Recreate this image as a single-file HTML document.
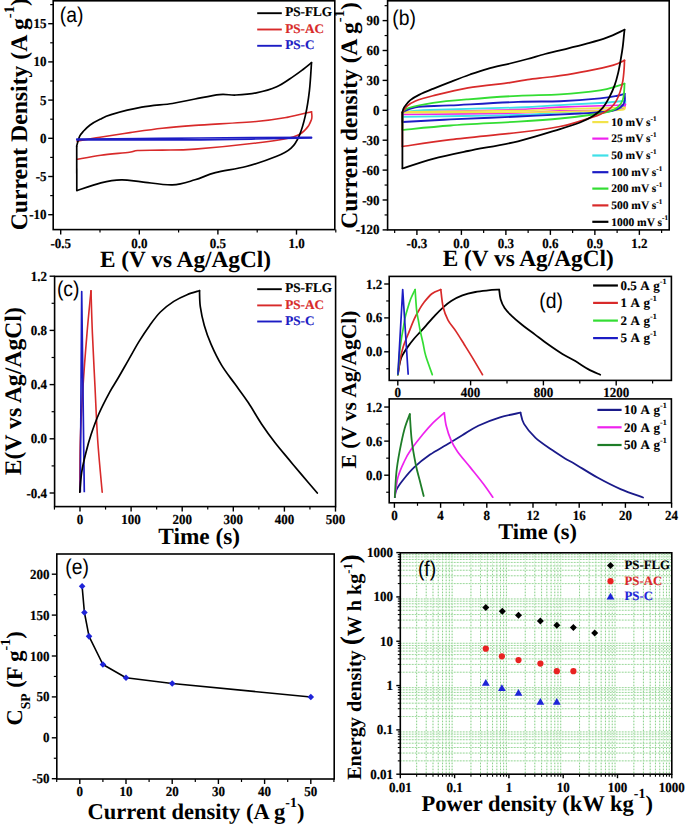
<!DOCTYPE html>
<html><head><meta charset="utf-8"><style>
html,body{margin:0;padding:0;background:#fff;}
svg{display:block;text-rendering:geometricPrecision;}
</style></head><body>
<svg width="685" height="824" viewBox="0 0 685 824">
<rect x="0" y="0" width="685" height="824" fill="#fff"/>
<line x1="416.65" y1="552.80" x2="416.65" y2="774.20" stroke="#e2f5e2" stroke-width="1.0"/>
<line x1="416.65" y1="552.80" x2="416.65" y2="774.20" stroke="#80cc80" stroke-dasharray="1.1 1.9" stroke-width="1.0"/>
<line x1="426.21" y1="552.80" x2="426.21" y2="774.20" stroke="#e2f5e2" stroke-width="1.0"/>
<line x1="426.21" y1="552.80" x2="426.21" y2="774.20" stroke="#80cc80" stroke-dasharray="1.1 1.9" stroke-width="1.0"/>
<line x1="432.99" y1="552.80" x2="432.99" y2="774.20" stroke="#e2f5e2" stroke-width="1.0"/>
<line x1="432.99" y1="552.80" x2="432.99" y2="774.20" stroke="#80cc80" stroke-dasharray="1.1 1.9" stroke-width="1.0"/>
<line x1="438.25" y1="552.80" x2="438.25" y2="774.20" stroke="#e2f5e2" stroke-width="1.0"/>
<line x1="438.25" y1="552.80" x2="438.25" y2="774.20" stroke="#80cc80" stroke-dasharray="1.1 1.9" stroke-width="1.0"/>
<line x1="442.55" y1="552.80" x2="442.55" y2="774.20" stroke="#e2f5e2" stroke-width="1.0"/>
<line x1="442.55" y1="552.80" x2="442.55" y2="774.20" stroke="#80cc80" stroke-dasharray="1.1 1.9" stroke-width="1.0"/>
<line x1="446.19" y1="552.80" x2="446.19" y2="774.20" stroke="#e2f5e2" stroke-width="1.0"/>
<line x1="446.19" y1="552.80" x2="446.19" y2="774.20" stroke="#80cc80" stroke-dasharray="1.1 1.9" stroke-width="1.0"/>
<line x1="449.34" y1="552.80" x2="449.34" y2="774.20" stroke="#e2f5e2" stroke-width="1.0"/>
<line x1="449.34" y1="552.80" x2="449.34" y2="774.20" stroke="#80cc80" stroke-dasharray="1.1 1.9" stroke-width="1.0"/>
<line x1="452.12" y1="552.80" x2="452.12" y2="774.20" stroke="#e2f5e2" stroke-width="1.0"/>
<line x1="452.12" y1="552.80" x2="452.12" y2="774.20" stroke="#80cc80" stroke-dasharray="1.1 1.9" stroke-width="1.0"/>
<line x1="470.95" y1="552.80" x2="470.95" y2="774.20" stroke="#e2f5e2" stroke-width="1.0"/>
<line x1="470.95" y1="552.80" x2="470.95" y2="774.20" stroke="#80cc80" stroke-dasharray="1.1 1.9" stroke-width="1.0"/>
<line x1="480.51" y1="552.80" x2="480.51" y2="774.20" stroke="#e2f5e2" stroke-width="1.0"/>
<line x1="480.51" y1="552.80" x2="480.51" y2="774.20" stroke="#80cc80" stroke-dasharray="1.1 1.9" stroke-width="1.0"/>
<line x1="487.29" y1="552.80" x2="487.29" y2="774.20" stroke="#e2f5e2" stroke-width="1.0"/>
<line x1="487.29" y1="552.80" x2="487.29" y2="774.20" stroke="#80cc80" stroke-dasharray="1.1 1.9" stroke-width="1.0"/>
<line x1="492.55" y1="552.80" x2="492.55" y2="774.20" stroke="#e2f5e2" stroke-width="1.0"/>
<line x1="492.55" y1="552.80" x2="492.55" y2="774.20" stroke="#80cc80" stroke-dasharray="1.1 1.9" stroke-width="1.0"/>
<line x1="496.85" y1="552.80" x2="496.85" y2="774.20" stroke="#e2f5e2" stroke-width="1.0"/>
<line x1="496.85" y1="552.80" x2="496.85" y2="774.20" stroke="#80cc80" stroke-dasharray="1.1 1.9" stroke-width="1.0"/>
<line x1="500.49" y1="552.80" x2="500.49" y2="774.20" stroke="#e2f5e2" stroke-width="1.0"/>
<line x1="500.49" y1="552.80" x2="500.49" y2="774.20" stroke="#80cc80" stroke-dasharray="1.1 1.9" stroke-width="1.0"/>
<line x1="503.64" y1="552.80" x2="503.64" y2="774.20" stroke="#e2f5e2" stroke-width="1.0"/>
<line x1="503.64" y1="552.80" x2="503.64" y2="774.20" stroke="#80cc80" stroke-dasharray="1.1 1.9" stroke-width="1.0"/>
<line x1="506.42" y1="552.80" x2="506.42" y2="774.20" stroke="#e2f5e2" stroke-width="1.0"/>
<line x1="506.42" y1="552.80" x2="506.42" y2="774.20" stroke="#80cc80" stroke-dasharray="1.1 1.9" stroke-width="1.0"/>
<line x1="525.25" y1="552.80" x2="525.25" y2="774.20" stroke="#e2f5e2" stroke-width="1.0"/>
<line x1="525.25" y1="552.80" x2="525.25" y2="774.20" stroke="#80cc80" stroke-dasharray="1.1 1.9" stroke-width="1.0"/>
<line x1="534.81" y1="552.80" x2="534.81" y2="774.20" stroke="#e2f5e2" stroke-width="1.0"/>
<line x1="534.81" y1="552.80" x2="534.81" y2="774.20" stroke="#80cc80" stroke-dasharray="1.1 1.9" stroke-width="1.0"/>
<line x1="541.59" y1="552.80" x2="541.59" y2="774.20" stroke="#e2f5e2" stroke-width="1.0"/>
<line x1="541.59" y1="552.80" x2="541.59" y2="774.20" stroke="#80cc80" stroke-dasharray="1.1 1.9" stroke-width="1.0"/>
<line x1="546.85" y1="552.80" x2="546.85" y2="774.20" stroke="#e2f5e2" stroke-width="1.0"/>
<line x1="546.85" y1="552.80" x2="546.85" y2="774.20" stroke="#80cc80" stroke-dasharray="1.1 1.9" stroke-width="1.0"/>
<line x1="551.15" y1="552.80" x2="551.15" y2="774.20" stroke="#e2f5e2" stroke-width="1.0"/>
<line x1="551.15" y1="552.80" x2="551.15" y2="774.20" stroke="#80cc80" stroke-dasharray="1.1 1.9" stroke-width="1.0"/>
<line x1="554.79" y1="552.80" x2="554.79" y2="774.20" stroke="#e2f5e2" stroke-width="1.0"/>
<line x1="554.79" y1="552.80" x2="554.79" y2="774.20" stroke="#80cc80" stroke-dasharray="1.1 1.9" stroke-width="1.0"/>
<line x1="557.94" y1="552.80" x2="557.94" y2="774.20" stroke="#e2f5e2" stroke-width="1.0"/>
<line x1="557.94" y1="552.80" x2="557.94" y2="774.20" stroke="#80cc80" stroke-dasharray="1.1 1.9" stroke-width="1.0"/>
<line x1="560.72" y1="552.80" x2="560.72" y2="774.20" stroke="#e2f5e2" stroke-width="1.0"/>
<line x1="560.72" y1="552.80" x2="560.72" y2="774.20" stroke="#80cc80" stroke-dasharray="1.1 1.9" stroke-width="1.0"/>
<line x1="579.55" y1="552.80" x2="579.55" y2="774.20" stroke="#e2f5e2" stroke-width="1.0"/>
<line x1="579.55" y1="552.80" x2="579.55" y2="774.20" stroke="#80cc80" stroke-dasharray="1.1 1.9" stroke-width="1.0"/>
<line x1="589.11" y1="552.80" x2="589.11" y2="774.20" stroke="#e2f5e2" stroke-width="1.0"/>
<line x1="589.11" y1="552.80" x2="589.11" y2="774.20" stroke="#80cc80" stroke-dasharray="1.1 1.9" stroke-width="1.0"/>
<line x1="595.89" y1="552.80" x2="595.89" y2="774.20" stroke="#e2f5e2" stroke-width="1.0"/>
<line x1="595.89" y1="552.80" x2="595.89" y2="774.20" stroke="#80cc80" stroke-dasharray="1.1 1.9" stroke-width="1.0"/>
<line x1="601.15" y1="552.80" x2="601.15" y2="774.20" stroke="#e2f5e2" stroke-width="1.0"/>
<line x1="601.15" y1="552.80" x2="601.15" y2="774.20" stroke="#80cc80" stroke-dasharray="1.1 1.9" stroke-width="1.0"/>
<line x1="605.45" y1="552.80" x2="605.45" y2="774.20" stroke="#e2f5e2" stroke-width="1.0"/>
<line x1="605.45" y1="552.80" x2="605.45" y2="774.20" stroke="#80cc80" stroke-dasharray="1.1 1.9" stroke-width="1.0"/>
<line x1="609.09" y1="552.80" x2="609.09" y2="774.20" stroke="#e2f5e2" stroke-width="1.0"/>
<line x1="609.09" y1="552.80" x2="609.09" y2="774.20" stroke="#80cc80" stroke-dasharray="1.1 1.9" stroke-width="1.0"/>
<line x1="612.24" y1="552.80" x2="612.24" y2="774.20" stroke="#e2f5e2" stroke-width="1.0"/>
<line x1="612.24" y1="552.80" x2="612.24" y2="774.20" stroke="#80cc80" stroke-dasharray="1.1 1.9" stroke-width="1.0"/>
<line x1="615.02" y1="552.80" x2="615.02" y2="774.20" stroke="#e2f5e2" stroke-width="1.0"/>
<line x1="615.02" y1="552.80" x2="615.02" y2="774.20" stroke="#80cc80" stroke-dasharray="1.1 1.9" stroke-width="1.0"/>
<line x1="633.85" y1="552.80" x2="633.85" y2="774.20" stroke="#e2f5e2" stroke-width="1.0"/>
<line x1="633.85" y1="552.80" x2="633.85" y2="774.20" stroke="#80cc80" stroke-dasharray="1.1 1.9" stroke-width="1.0"/>
<line x1="643.41" y1="552.80" x2="643.41" y2="774.20" stroke="#e2f5e2" stroke-width="1.0"/>
<line x1="643.41" y1="552.80" x2="643.41" y2="774.20" stroke="#80cc80" stroke-dasharray="1.1 1.9" stroke-width="1.0"/>
<line x1="650.19" y1="552.80" x2="650.19" y2="774.20" stroke="#e2f5e2" stroke-width="1.0"/>
<line x1="650.19" y1="552.80" x2="650.19" y2="774.20" stroke="#80cc80" stroke-dasharray="1.1 1.9" stroke-width="1.0"/>
<line x1="655.45" y1="552.80" x2="655.45" y2="774.20" stroke="#e2f5e2" stroke-width="1.0"/>
<line x1="655.45" y1="552.80" x2="655.45" y2="774.20" stroke="#80cc80" stroke-dasharray="1.1 1.9" stroke-width="1.0"/>
<line x1="659.75" y1="552.80" x2="659.75" y2="774.20" stroke="#e2f5e2" stroke-width="1.0"/>
<line x1="659.75" y1="552.80" x2="659.75" y2="774.20" stroke="#80cc80" stroke-dasharray="1.1 1.9" stroke-width="1.0"/>
<line x1="663.39" y1="552.80" x2="663.39" y2="774.20" stroke="#e2f5e2" stroke-width="1.0"/>
<line x1="663.39" y1="552.80" x2="663.39" y2="774.20" stroke="#80cc80" stroke-dasharray="1.1 1.9" stroke-width="1.0"/>
<line x1="666.54" y1="552.80" x2="666.54" y2="774.20" stroke="#e2f5e2" stroke-width="1.0"/>
<line x1="666.54" y1="552.80" x2="666.54" y2="774.20" stroke="#80cc80" stroke-dasharray="1.1 1.9" stroke-width="1.0"/>
<line x1="669.32" y1="552.80" x2="669.32" y2="774.20" stroke="#e2f5e2" stroke-width="1.0"/>
<line x1="669.32" y1="552.80" x2="669.32" y2="774.20" stroke="#80cc80" stroke-dasharray="1.1 1.9" stroke-width="1.0"/>
<line x1="400.30" y1="760.86" x2="671.80" y2="760.86" stroke="#e2f5e2" stroke-width="1.0"/>
<line x1="400.30" y1="760.86" x2="671.80" y2="760.86" stroke="#80cc80" stroke-dasharray="1.1 1.9" stroke-width="1.0"/>
<line x1="400.30" y1="753.05" x2="671.80" y2="753.05" stroke="#e2f5e2" stroke-width="1.0"/>
<line x1="400.30" y1="753.05" x2="671.80" y2="753.05" stroke="#80cc80" stroke-dasharray="1.1 1.9" stroke-width="1.0"/>
<line x1="400.30" y1="747.52" x2="671.80" y2="747.52" stroke="#e2f5e2" stroke-width="1.0"/>
<line x1="400.30" y1="747.52" x2="671.80" y2="747.52" stroke="#80cc80" stroke-dasharray="1.1 1.9" stroke-width="1.0"/>
<line x1="400.30" y1="743.22" x2="671.80" y2="743.22" stroke="#e2f5e2" stroke-width="1.0"/>
<line x1="400.30" y1="743.22" x2="671.80" y2="743.22" stroke="#80cc80" stroke-dasharray="1.1 1.9" stroke-width="1.0"/>
<line x1="400.30" y1="739.71" x2="671.80" y2="739.71" stroke="#e2f5e2" stroke-width="1.0"/>
<line x1="400.30" y1="739.71" x2="671.80" y2="739.71" stroke="#80cc80" stroke-dasharray="1.1 1.9" stroke-width="1.0"/>
<line x1="400.30" y1="736.75" x2="671.80" y2="736.75" stroke="#e2f5e2" stroke-width="1.0"/>
<line x1="400.30" y1="736.75" x2="671.80" y2="736.75" stroke="#80cc80" stroke-dasharray="1.1 1.9" stroke-width="1.0"/>
<line x1="400.30" y1="734.18" x2="671.80" y2="734.18" stroke="#e2f5e2" stroke-width="1.0"/>
<line x1="400.30" y1="734.18" x2="671.80" y2="734.18" stroke="#80cc80" stroke-dasharray="1.1 1.9" stroke-width="1.0"/>
<line x1="400.30" y1="731.91" x2="671.80" y2="731.91" stroke="#e2f5e2" stroke-width="1.0"/>
<line x1="400.30" y1="731.91" x2="671.80" y2="731.91" stroke="#80cc80" stroke-dasharray="1.1 1.9" stroke-width="1.0"/>
<line x1="400.30" y1="716.54" x2="671.80" y2="716.54" stroke="#e2f5e2" stroke-width="1.0"/>
<line x1="400.30" y1="716.54" x2="671.80" y2="716.54" stroke="#80cc80" stroke-dasharray="1.1 1.9" stroke-width="1.0"/>
<line x1="400.30" y1="708.73" x2="671.80" y2="708.73" stroke="#e2f5e2" stroke-width="1.0"/>
<line x1="400.30" y1="708.73" x2="671.80" y2="708.73" stroke="#80cc80" stroke-dasharray="1.1 1.9" stroke-width="1.0"/>
<line x1="400.30" y1="703.20" x2="671.80" y2="703.20" stroke="#e2f5e2" stroke-width="1.0"/>
<line x1="400.30" y1="703.20" x2="671.80" y2="703.20" stroke="#80cc80" stroke-dasharray="1.1 1.9" stroke-width="1.0"/>
<line x1="400.30" y1="698.90" x2="671.80" y2="698.90" stroke="#e2f5e2" stroke-width="1.0"/>
<line x1="400.30" y1="698.90" x2="671.80" y2="698.90" stroke="#80cc80" stroke-dasharray="1.1 1.9" stroke-width="1.0"/>
<line x1="400.30" y1="695.39" x2="671.80" y2="695.39" stroke="#e2f5e2" stroke-width="1.0"/>
<line x1="400.30" y1="695.39" x2="671.80" y2="695.39" stroke="#80cc80" stroke-dasharray="1.1 1.9" stroke-width="1.0"/>
<line x1="400.30" y1="692.43" x2="671.80" y2="692.43" stroke="#e2f5e2" stroke-width="1.0"/>
<line x1="400.30" y1="692.43" x2="671.80" y2="692.43" stroke="#80cc80" stroke-dasharray="1.1 1.9" stroke-width="1.0"/>
<line x1="400.30" y1="689.86" x2="671.80" y2="689.86" stroke="#e2f5e2" stroke-width="1.0"/>
<line x1="400.30" y1="689.86" x2="671.80" y2="689.86" stroke="#80cc80" stroke-dasharray="1.1 1.9" stroke-width="1.0"/>
<line x1="400.30" y1="687.59" x2="671.80" y2="687.59" stroke="#e2f5e2" stroke-width="1.0"/>
<line x1="400.30" y1="687.59" x2="671.80" y2="687.59" stroke="#80cc80" stroke-dasharray="1.1 1.9" stroke-width="1.0"/>
<line x1="400.30" y1="672.22" x2="671.80" y2="672.22" stroke="#e2f5e2" stroke-width="1.0"/>
<line x1="400.30" y1="672.22" x2="671.80" y2="672.22" stroke="#80cc80" stroke-dasharray="1.1 1.9" stroke-width="1.0"/>
<line x1="400.30" y1="664.41" x2="671.80" y2="664.41" stroke="#e2f5e2" stroke-width="1.0"/>
<line x1="400.30" y1="664.41" x2="671.80" y2="664.41" stroke="#80cc80" stroke-dasharray="1.1 1.9" stroke-width="1.0"/>
<line x1="400.30" y1="658.88" x2="671.80" y2="658.88" stroke="#e2f5e2" stroke-width="1.0"/>
<line x1="400.30" y1="658.88" x2="671.80" y2="658.88" stroke="#80cc80" stroke-dasharray="1.1 1.9" stroke-width="1.0"/>
<line x1="400.30" y1="654.58" x2="671.80" y2="654.58" stroke="#e2f5e2" stroke-width="1.0"/>
<line x1="400.30" y1="654.58" x2="671.80" y2="654.58" stroke="#80cc80" stroke-dasharray="1.1 1.9" stroke-width="1.0"/>
<line x1="400.30" y1="651.07" x2="671.80" y2="651.07" stroke="#e2f5e2" stroke-width="1.0"/>
<line x1="400.30" y1="651.07" x2="671.80" y2="651.07" stroke="#80cc80" stroke-dasharray="1.1 1.9" stroke-width="1.0"/>
<line x1="400.30" y1="648.11" x2="671.80" y2="648.11" stroke="#e2f5e2" stroke-width="1.0"/>
<line x1="400.30" y1="648.11" x2="671.80" y2="648.11" stroke="#80cc80" stroke-dasharray="1.1 1.9" stroke-width="1.0"/>
<line x1="400.30" y1="645.54" x2="671.80" y2="645.54" stroke="#e2f5e2" stroke-width="1.0"/>
<line x1="400.30" y1="645.54" x2="671.80" y2="645.54" stroke="#80cc80" stroke-dasharray="1.1 1.9" stroke-width="1.0"/>
<line x1="400.30" y1="643.27" x2="671.80" y2="643.27" stroke="#e2f5e2" stroke-width="1.0"/>
<line x1="400.30" y1="643.27" x2="671.80" y2="643.27" stroke="#80cc80" stroke-dasharray="1.1 1.9" stroke-width="1.0"/>
<line x1="400.30" y1="627.90" x2="671.80" y2="627.90" stroke="#e2f5e2" stroke-width="1.0"/>
<line x1="400.30" y1="627.90" x2="671.80" y2="627.90" stroke="#80cc80" stroke-dasharray="1.1 1.9" stroke-width="1.0"/>
<line x1="400.30" y1="620.09" x2="671.80" y2="620.09" stroke="#e2f5e2" stroke-width="1.0"/>
<line x1="400.30" y1="620.09" x2="671.80" y2="620.09" stroke="#80cc80" stroke-dasharray="1.1 1.9" stroke-width="1.0"/>
<line x1="400.30" y1="614.56" x2="671.80" y2="614.56" stroke="#e2f5e2" stroke-width="1.0"/>
<line x1="400.30" y1="614.56" x2="671.80" y2="614.56" stroke="#80cc80" stroke-dasharray="1.1 1.9" stroke-width="1.0"/>
<line x1="400.30" y1="610.26" x2="671.80" y2="610.26" stroke="#e2f5e2" stroke-width="1.0"/>
<line x1="400.30" y1="610.26" x2="671.80" y2="610.26" stroke="#80cc80" stroke-dasharray="1.1 1.9" stroke-width="1.0"/>
<line x1="400.30" y1="606.75" x2="671.80" y2="606.75" stroke="#e2f5e2" stroke-width="1.0"/>
<line x1="400.30" y1="606.75" x2="671.80" y2="606.75" stroke="#80cc80" stroke-dasharray="1.1 1.9" stroke-width="1.0"/>
<line x1="400.30" y1="603.79" x2="671.80" y2="603.79" stroke="#e2f5e2" stroke-width="1.0"/>
<line x1="400.30" y1="603.79" x2="671.80" y2="603.79" stroke="#80cc80" stroke-dasharray="1.1 1.9" stroke-width="1.0"/>
<line x1="400.30" y1="601.22" x2="671.80" y2="601.22" stroke="#e2f5e2" stroke-width="1.0"/>
<line x1="400.30" y1="601.22" x2="671.80" y2="601.22" stroke="#80cc80" stroke-dasharray="1.1 1.9" stroke-width="1.0"/>
<line x1="400.30" y1="598.95" x2="671.80" y2="598.95" stroke="#e2f5e2" stroke-width="1.0"/>
<line x1="400.30" y1="598.95" x2="671.80" y2="598.95" stroke="#80cc80" stroke-dasharray="1.1 1.9" stroke-width="1.0"/>
<line x1="400.30" y1="583.58" x2="671.80" y2="583.58" stroke="#e2f5e2" stroke-width="1.0"/>
<line x1="400.30" y1="583.58" x2="671.80" y2="583.58" stroke="#80cc80" stroke-dasharray="1.1 1.9" stroke-width="1.0"/>
<line x1="400.30" y1="575.77" x2="671.80" y2="575.77" stroke="#e2f5e2" stroke-width="1.0"/>
<line x1="400.30" y1="575.77" x2="671.80" y2="575.77" stroke="#80cc80" stroke-dasharray="1.1 1.9" stroke-width="1.0"/>
<line x1="400.30" y1="570.24" x2="671.80" y2="570.24" stroke="#e2f5e2" stroke-width="1.0"/>
<line x1="400.30" y1="570.24" x2="671.80" y2="570.24" stroke="#80cc80" stroke-dasharray="1.1 1.9" stroke-width="1.0"/>
<line x1="400.30" y1="565.94" x2="671.80" y2="565.94" stroke="#e2f5e2" stroke-width="1.0"/>
<line x1="400.30" y1="565.94" x2="671.80" y2="565.94" stroke="#80cc80" stroke-dasharray="1.1 1.9" stroke-width="1.0"/>
<line x1="400.30" y1="562.43" x2="671.80" y2="562.43" stroke="#e2f5e2" stroke-width="1.0"/>
<line x1="400.30" y1="562.43" x2="671.80" y2="562.43" stroke="#80cc80" stroke-dasharray="1.1 1.9" stroke-width="1.0"/>
<line x1="400.30" y1="559.47" x2="671.80" y2="559.47" stroke="#e2f5e2" stroke-width="1.0"/>
<line x1="400.30" y1="559.47" x2="671.80" y2="559.47" stroke="#80cc80" stroke-dasharray="1.1 1.9" stroke-width="1.0"/>
<line x1="400.30" y1="556.90" x2="671.80" y2="556.90" stroke="#e2f5e2" stroke-width="1.0"/>
<line x1="400.30" y1="556.90" x2="671.80" y2="556.90" stroke="#80cc80" stroke-dasharray="1.1 1.9" stroke-width="1.0"/>
<line x1="400.30" y1="554.63" x2="671.80" y2="554.63" stroke="#e2f5e2" stroke-width="1.0"/>
<line x1="400.30" y1="554.63" x2="671.80" y2="554.63" stroke="#80cc80" stroke-dasharray="1.1 1.9" stroke-width="1.0"/>
<rect x="400.30" y="552.80" width="271.50" height="221.40" fill="none" stroke="#000" stroke-width="1.6"/>
<line x1="396.30" y1="774.20" x2="400.30" y2="774.20" stroke="#000" stroke-width="1.4"/>
<text transform="translate(393.00,778.70) scale(1,1.06)" x="0" y="0" font-family='"Liberation Serif", serif' font-size="13" font-weight="bold" text-anchor="end" fill="#000" stroke="#000" stroke-width="0.2">0.01</text>
<line x1="400.30" y1="774.20" x2="400.30" y2="778.20" stroke="#000" stroke-width="1.4"/>
<text transform="translate(400.30,791.50) scale(1,1.06)" x="0" y="0" font-family='"Liberation Serif", serif' font-size="13" font-weight="bold" text-anchor="middle" fill="#000" stroke="#000" stroke-width="0.2">0.01</text>
<line x1="396.30" y1="729.88" x2="400.30" y2="729.88" stroke="#000" stroke-width="1.4"/>
<text transform="translate(393.00,734.38) scale(1,1.06)" x="0" y="0" font-family='"Liberation Serif", serif' font-size="13" font-weight="bold" text-anchor="end" fill="#000" stroke="#000" stroke-width="0.2">0.1</text>
<line x1="454.60" y1="774.20" x2="454.60" y2="778.20" stroke="#000" stroke-width="1.4"/>
<text transform="translate(454.60,791.50) scale(1,1.06)" x="0" y="0" font-family='"Liberation Serif", serif' font-size="13" font-weight="bold" text-anchor="middle" fill="#000" stroke="#000" stroke-width="0.2">0.1</text>
<line x1="396.30" y1="685.56" x2="400.30" y2="685.56" stroke="#000" stroke-width="1.4"/>
<text transform="translate(393.00,690.06) scale(1,1.06)" x="0" y="0" font-family='"Liberation Serif", serif' font-size="13" font-weight="bold" text-anchor="end" fill="#000" stroke="#000" stroke-width="0.2">1</text>
<line x1="508.90" y1="774.20" x2="508.90" y2="778.20" stroke="#000" stroke-width="1.4"/>
<text transform="translate(508.90,791.50) scale(1,1.06)" x="0" y="0" font-family='"Liberation Serif", serif' font-size="13" font-weight="bold" text-anchor="middle" fill="#000" stroke="#000" stroke-width="0.2">1</text>
<line x1="396.30" y1="641.24" x2="400.30" y2="641.24" stroke="#000" stroke-width="1.4"/>
<text transform="translate(393.00,645.74) scale(1,1.06)" x="0" y="0" font-family='"Liberation Serif", serif' font-size="13" font-weight="bold" text-anchor="end" fill="#000" stroke="#000" stroke-width="0.2">10</text>
<line x1="563.20" y1="774.20" x2="563.20" y2="778.20" stroke="#000" stroke-width="1.4"/>
<text transform="translate(563.20,791.50) scale(1,1.06)" x="0" y="0" font-family='"Liberation Serif", serif' font-size="13" font-weight="bold" text-anchor="middle" fill="#000" stroke="#000" stroke-width="0.2">10</text>
<line x1="396.30" y1="596.92" x2="400.30" y2="596.92" stroke="#000" stroke-width="1.4"/>
<text transform="translate(393.00,601.42) scale(1,1.06)" x="0" y="0" font-family='"Liberation Serif", serif' font-size="13" font-weight="bold" text-anchor="end" fill="#000" stroke="#000" stroke-width="0.2">100</text>
<line x1="617.50" y1="774.20" x2="617.50" y2="778.20" stroke="#000" stroke-width="1.4"/>
<text transform="translate(617.50,791.50) scale(1,1.06)" x="0" y="0" font-family='"Liberation Serif", serif' font-size="13" font-weight="bold" text-anchor="middle" fill="#000" stroke="#000" stroke-width="0.2">100</text>
<line x1="396.30" y1="552.60" x2="400.30" y2="552.60" stroke="#000" stroke-width="1.4"/>
<text transform="translate(393.00,557.10) scale(1,1.06)" x="0" y="0" font-family='"Liberation Serif", serif' font-size="13" font-weight="bold" text-anchor="end" fill="#000" stroke="#000" stroke-width="0.2">1000</text>
<line x1="671.80" y1="774.20" x2="671.80" y2="778.20" stroke="#000" stroke-width="1.4"/>
<text transform="translate(671.80,791.50) scale(1,1.06)" x="0" y="0" font-family='"Liberation Serif", serif' font-size="13" font-weight="bold" text-anchor="middle" fill="#000" stroke="#000" stroke-width="0.2">1000</text>
<line x1="397.80" y1="760.86" x2="400.30" y2="760.86" stroke="#000" stroke-width="1.1"/>
<line x1="416.65" y1="774.20" x2="416.65" y2="776.70" stroke="#000" stroke-width="1.1"/>
<line x1="397.80" y1="753.05" x2="400.30" y2="753.05" stroke="#000" stroke-width="1.1"/>
<line x1="426.21" y1="774.20" x2="426.21" y2="776.70" stroke="#000" stroke-width="1.1"/>
<line x1="397.80" y1="747.52" x2="400.30" y2="747.52" stroke="#000" stroke-width="1.1"/>
<line x1="432.99" y1="774.20" x2="432.99" y2="776.70" stroke="#000" stroke-width="1.1"/>
<line x1="397.80" y1="743.22" x2="400.30" y2="743.22" stroke="#000" stroke-width="1.1"/>
<line x1="438.25" y1="774.20" x2="438.25" y2="776.70" stroke="#000" stroke-width="1.1"/>
<line x1="397.80" y1="739.71" x2="400.30" y2="739.71" stroke="#000" stroke-width="1.1"/>
<line x1="442.55" y1="774.20" x2="442.55" y2="776.70" stroke="#000" stroke-width="1.1"/>
<line x1="397.80" y1="736.75" x2="400.30" y2="736.75" stroke="#000" stroke-width="1.1"/>
<line x1="446.19" y1="774.20" x2="446.19" y2="776.70" stroke="#000" stroke-width="1.1"/>
<line x1="397.80" y1="734.18" x2="400.30" y2="734.18" stroke="#000" stroke-width="1.1"/>
<line x1="449.34" y1="774.20" x2="449.34" y2="776.70" stroke="#000" stroke-width="1.1"/>
<line x1="397.80" y1="731.91" x2="400.30" y2="731.91" stroke="#000" stroke-width="1.1"/>
<line x1="452.12" y1="774.20" x2="452.12" y2="776.70" stroke="#000" stroke-width="1.1"/>
<line x1="397.80" y1="716.54" x2="400.30" y2="716.54" stroke="#000" stroke-width="1.1"/>
<line x1="470.95" y1="774.20" x2="470.95" y2="776.70" stroke="#000" stroke-width="1.1"/>
<line x1="397.80" y1="708.73" x2="400.30" y2="708.73" stroke="#000" stroke-width="1.1"/>
<line x1="480.51" y1="774.20" x2="480.51" y2="776.70" stroke="#000" stroke-width="1.1"/>
<line x1="397.80" y1="703.20" x2="400.30" y2="703.20" stroke="#000" stroke-width="1.1"/>
<line x1="487.29" y1="774.20" x2="487.29" y2="776.70" stroke="#000" stroke-width="1.1"/>
<line x1="397.80" y1="698.90" x2="400.30" y2="698.90" stroke="#000" stroke-width="1.1"/>
<line x1="492.55" y1="774.20" x2="492.55" y2="776.70" stroke="#000" stroke-width="1.1"/>
<line x1="397.80" y1="695.39" x2="400.30" y2="695.39" stroke="#000" stroke-width="1.1"/>
<line x1="496.85" y1="774.20" x2="496.85" y2="776.70" stroke="#000" stroke-width="1.1"/>
<line x1="397.80" y1="692.43" x2="400.30" y2="692.43" stroke="#000" stroke-width="1.1"/>
<line x1="500.49" y1="774.20" x2="500.49" y2="776.70" stroke="#000" stroke-width="1.1"/>
<line x1="397.80" y1="689.86" x2="400.30" y2="689.86" stroke="#000" stroke-width="1.1"/>
<line x1="503.64" y1="774.20" x2="503.64" y2="776.70" stroke="#000" stroke-width="1.1"/>
<line x1="397.80" y1="687.59" x2="400.30" y2="687.59" stroke="#000" stroke-width="1.1"/>
<line x1="506.42" y1="774.20" x2="506.42" y2="776.70" stroke="#000" stroke-width="1.1"/>
<line x1="397.80" y1="672.22" x2="400.30" y2="672.22" stroke="#000" stroke-width="1.1"/>
<line x1="525.25" y1="774.20" x2="525.25" y2="776.70" stroke="#000" stroke-width="1.1"/>
<line x1="397.80" y1="664.41" x2="400.30" y2="664.41" stroke="#000" stroke-width="1.1"/>
<line x1="534.81" y1="774.20" x2="534.81" y2="776.70" stroke="#000" stroke-width="1.1"/>
<line x1="397.80" y1="658.88" x2="400.30" y2="658.88" stroke="#000" stroke-width="1.1"/>
<line x1="541.59" y1="774.20" x2="541.59" y2="776.70" stroke="#000" stroke-width="1.1"/>
<line x1="397.80" y1="654.58" x2="400.30" y2="654.58" stroke="#000" stroke-width="1.1"/>
<line x1="546.85" y1="774.20" x2="546.85" y2="776.70" stroke="#000" stroke-width="1.1"/>
<line x1="397.80" y1="651.07" x2="400.30" y2="651.07" stroke="#000" stroke-width="1.1"/>
<line x1="551.15" y1="774.20" x2="551.15" y2="776.70" stroke="#000" stroke-width="1.1"/>
<line x1="397.80" y1="648.11" x2="400.30" y2="648.11" stroke="#000" stroke-width="1.1"/>
<line x1="554.79" y1="774.20" x2="554.79" y2="776.70" stroke="#000" stroke-width="1.1"/>
<line x1="397.80" y1="645.54" x2="400.30" y2="645.54" stroke="#000" stroke-width="1.1"/>
<line x1="557.94" y1="774.20" x2="557.94" y2="776.70" stroke="#000" stroke-width="1.1"/>
<line x1="397.80" y1="643.27" x2="400.30" y2="643.27" stroke="#000" stroke-width="1.1"/>
<line x1="560.72" y1="774.20" x2="560.72" y2="776.70" stroke="#000" stroke-width="1.1"/>
<line x1="397.80" y1="627.90" x2="400.30" y2="627.90" stroke="#000" stroke-width="1.1"/>
<line x1="579.55" y1="774.20" x2="579.55" y2="776.70" stroke="#000" stroke-width="1.1"/>
<line x1="397.80" y1="620.09" x2="400.30" y2="620.09" stroke="#000" stroke-width="1.1"/>
<line x1="589.11" y1="774.20" x2="589.11" y2="776.70" stroke="#000" stroke-width="1.1"/>
<line x1="397.80" y1="614.56" x2="400.30" y2="614.56" stroke="#000" stroke-width="1.1"/>
<line x1="595.89" y1="774.20" x2="595.89" y2="776.70" stroke="#000" stroke-width="1.1"/>
<line x1="397.80" y1="610.26" x2="400.30" y2="610.26" stroke="#000" stroke-width="1.1"/>
<line x1="601.15" y1="774.20" x2="601.15" y2="776.70" stroke="#000" stroke-width="1.1"/>
<line x1="397.80" y1="606.75" x2="400.30" y2="606.75" stroke="#000" stroke-width="1.1"/>
<line x1="605.45" y1="774.20" x2="605.45" y2="776.70" stroke="#000" stroke-width="1.1"/>
<line x1="397.80" y1="603.79" x2="400.30" y2="603.79" stroke="#000" stroke-width="1.1"/>
<line x1="609.09" y1="774.20" x2="609.09" y2="776.70" stroke="#000" stroke-width="1.1"/>
<line x1="397.80" y1="601.22" x2="400.30" y2="601.22" stroke="#000" stroke-width="1.1"/>
<line x1="612.24" y1="774.20" x2="612.24" y2="776.70" stroke="#000" stroke-width="1.1"/>
<line x1="397.80" y1="598.95" x2="400.30" y2="598.95" stroke="#000" stroke-width="1.1"/>
<line x1="615.02" y1="774.20" x2="615.02" y2="776.70" stroke="#000" stroke-width="1.1"/>
<line x1="397.80" y1="583.58" x2="400.30" y2="583.58" stroke="#000" stroke-width="1.1"/>
<line x1="633.85" y1="774.20" x2="633.85" y2="776.70" stroke="#000" stroke-width="1.1"/>
<line x1="397.80" y1="575.77" x2="400.30" y2="575.77" stroke="#000" stroke-width="1.1"/>
<line x1="643.41" y1="774.20" x2="643.41" y2="776.70" stroke="#000" stroke-width="1.1"/>
<line x1="397.80" y1="570.24" x2="400.30" y2="570.24" stroke="#000" stroke-width="1.1"/>
<line x1="650.19" y1="774.20" x2="650.19" y2="776.70" stroke="#000" stroke-width="1.1"/>
<line x1="397.80" y1="565.94" x2="400.30" y2="565.94" stroke="#000" stroke-width="1.1"/>
<line x1="655.45" y1="774.20" x2="655.45" y2="776.70" stroke="#000" stroke-width="1.1"/>
<line x1="397.80" y1="562.43" x2="400.30" y2="562.43" stroke="#000" stroke-width="1.1"/>
<line x1="659.75" y1="774.20" x2="659.75" y2="776.70" stroke="#000" stroke-width="1.1"/>
<line x1="397.80" y1="559.47" x2="400.30" y2="559.47" stroke="#000" stroke-width="1.1"/>
<line x1="663.39" y1="774.20" x2="663.39" y2="776.70" stroke="#000" stroke-width="1.1"/>
<line x1="397.80" y1="556.90" x2="400.30" y2="556.90" stroke="#000" stroke-width="1.1"/>
<line x1="666.54" y1="774.20" x2="666.54" y2="776.70" stroke="#000" stroke-width="1.1"/>
<line x1="397.80" y1="554.63" x2="400.30" y2="554.63" stroke="#000" stroke-width="1.1"/>
<line x1="669.32" y1="774.20" x2="669.32" y2="776.70" stroke="#000" stroke-width="1.1"/>
<path d="M485.80,604.00 L489.30,607.50 L485.80,611.00 L482.30,607.50 Z" fill="#000"/>
<path d="M502.30,607.70 L505.80,611.20 L502.30,614.70 L498.80,611.20 Z" fill="#000"/>
<path d="M518.50,611.80 L522.00,615.30 L518.50,618.80 L515.00,615.30 Z" fill="#000"/>
<path d="M540.40,617.50 L543.90,621.00 L540.40,624.50 L536.90,621.00 Z" fill="#000"/>
<path d="M556.80,621.80 L560.30,625.30 L556.80,628.80 L553.30,625.30 Z" fill="#000"/>
<path d="M573.40,623.90 L576.90,627.40 L573.40,630.90 L569.90,627.40 Z" fill="#000"/>
<path d="M594.70,629.40 L598.20,632.90 L594.70,636.40 L591.20,632.90 Z" fill="#000"/>
<circle cx="485.80" cy="648.70" r="3.1" fill="#e82222"/>
<circle cx="501.90" cy="656.30" r="3.1" fill="#e82222"/>
<circle cx="518.50" cy="660.10" r="3.1" fill="#e82222"/>
<circle cx="540.40" cy="663.60" r="3.1" fill="#e82222"/>
<circle cx="556.80" cy="671.20" r="3.1" fill="#e82222"/>
<circle cx="573.40" cy="671.20" r="3.1" fill="#e82222"/>
<path d="M485.80,678.90 L489.70,685.72 L481.90,685.72 Z" fill="#1f24d8"/>
<path d="M501.90,684.20 L505.80,691.02 L498.00,691.02 Z" fill="#1f24d8"/>
<path d="M518.50,688.90 L522.40,695.72 L514.60,695.72 Z" fill="#1f24d8"/>
<path d="M540.40,697.90 L544.30,704.72 L536.50,704.72 Z" fill="#1f24d8"/>
<path d="M556.80,697.90 L560.70,704.72 L552.90,704.72 Z" fill="#1f24d8"/>
<path d="M610.50,562.00 L614.00,565.50 L610.50,569.00 L607.00,565.50 Z" fill="#000"/>
<circle cx="610.50" cy="581.20" r="3.1" fill="#e82222"/>
<path d="M610.50,592.80 L614.40,599.62 L606.60,599.62 Z" fill="#1f24d8"/>
<text x="624.50" y="569.00" font-family='"Liberation Serif", serif' font-size="12.8" font-weight="bold" text-anchor="start" fill="#000" stroke="#000" stroke-width="0.12">PS-FLG</text>
<text x="624.50" y="584.70" font-family='"Liberation Serif", serif' font-size="12.8" font-weight="bold" text-anchor="start" fill="#d82a2a" stroke="#d82a2a" stroke-width="0.12">PS-AC</text>
<text x="624.50" y="600.20" font-family='"Liberation Serif", serif' font-size="12.8" font-weight="bold" text-anchor="start" fill="#1f24d8" stroke="#1f24d8" stroke-width="0.12">PS-C</text>
<text x="537.20" y="810.50" font-family='"Liberation Serif", serif' font-size="22.5" font-weight="bold" text-anchor="middle" fill="#000">Power density (kW kg<tspan font-size="0.62em" dy="-0.88em">-1</tspan><tspan dy="0.5456em">)</tspan></text>
<text transform="translate(360.50,667.00) rotate(-90)" x="0" y="0" font-family='"Liberation Serif", serif' font-size="20.2" font-weight="bold" text-anchor="middle" fill="#000">Energy density <tspan font-size="1.35em" dy="-1.2">(</tspan><tspan dy="1.2">W h kg</tspan><tspan font-size="0.62em" dy="-9">-1</tspan><tspan font-size="1.35em" dy="7.8">)</tspan></text>
<text transform="translate(417.90,576.30) scale(0.9,1)" x="0" y="0" font-family='"Liberation Sans", sans-serif' font-size="21.5" fill="#000">(f)</text>
<path d="M77.00,141.20 C80.83,140.53 91.17,138.63 100.00,137.20 C108.83,135.77 119.63,134.10 130.00,132.60 C140.37,131.10 151.37,129.40 162.20,128.20 C173.03,127.00 179.32,126.52 195.00,125.40 C210.68,124.28 240.97,122.83 256.30,121.50 C271.63,120.17 277.80,119.03 287.00,117.40 C296.20,115.77 307.42,112.65 311.50,111.70" fill="none" stroke="#d82a2a" stroke-width="1.6" stroke-linejoin="round" stroke-linecap="round"/>
<path d="M311.50,111.70 C311.50,113.00 312.52,116.50 311.50,119.50 C310.48,122.50 308.47,126.80 305.40,129.70 C302.33,132.60 301.28,134.68 293.10,136.90 C284.92,139.12 272.65,140.97 256.30,143.00 C239.95,145.03 210.68,147.92 195.00,149.10 C179.32,150.28 171.75,149.87 162.20,150.10 C152.65,150.33 143.15,150.15 137.70,150.50 C132.25,150.85 135.63,151.40 129.50,152.20 C123.37,153.00 109.58,154.12 100.90,155.30 C92.22,156.48 81.32,158.63 77.40,159.30" fill="none" stroke="#d82a2a" stroke-width="1.6" stroke-linejoin="round" stroke-linecap="round"/>
<path d="M76.70,146.00 C76.90,145.27 77.42,143.20 77.90,141.60 C78.38,140.00 78.73,138.07 79.60,136.40 C80.47,134.73 81.35,133.50 83.10,131.60 C84.85,129.70 87.28,127.05 90.10,125.00 C92.92,122.95 96.50,121.03 100.00,119.30 C103.50,117.57 104.15,116.62 111.10,114.60 C118.05,112.58 131.48,109.05 141.70,107.20 C151.92,105.35 163.52,104.87 172.40,103.50 C181.28,102.13 187.15,100.48 195.00,99.00 C202.85,97.52 212.68,95.27 219.50,94.60 C226.32,93.93 229.77,95.28 235.90,95.00 C242.03,94.72 249.50,94.27 256.30,92.90 C263.10,91.53 270.57,89.52 276.70,86.80 C282.83,84.08 288.72,79.48 293.10,76.60 C297.48,73.72 299.93,71.82 303.00,69.50 C306.07,67.18 310.08,63.83 311.50,62.70" fill="none" stroke="#000" stroke-width="1.7" stroke-linejoin="round" stroke-linecap="round"/>
<path d="M311.50,62.70 C311.15,67.40 310.42,82.12 309.40,90.90 C308.38,99.68 307.10,107.92 305.40,115.40 C303.70,122.88 301.58,130.35 299.20,135.80 C296.82,141.25 294.85,144.68 291.10,148.10 C287.35,151.52 284.20,153.23 276.70,156.30 C269.20,159.37 256.32,163.78 246.10,166.50 C235.88,169.22 223.92,170.38 215.40,172.60 C206.88,174.82 202.17,177.75 195.00,179.80 C187.83,181.85 181.28,184.57 172.40,184.90 C163.52,185.23 150.22,182.65 141.70,181.80 C133.18,180.95 128.10,179.63 121.30,179.80 C114.50,179.97 108.32,181.00 100.90,182.80 C93.48,184.60 80.82,189.30 76.80,190.60" fill="none" stroke="#000" stroke-width="1.7" stroke-linejoin="round" stroke-linecap="round"/>
<path d="M76.80,190.60 L76.70,146.00" fill="none" stroke="#000" stroke-width="1.7" stroke-linejoin="round"/>
<path d="M76.80,139.20 C87.33,139.10 119.47,138.80 140.00,138.60 C160.53,138.40 171.42,138.22 200.00,138.00 C228.58,137.78 292.92,137.42 311.50,137.30" fill="none" stroke="#1c1cc4" stroke-width="1.7" stroke-linejoin="round" stroke-linecap="round"/>
<path d="M76.80,139.80 C87.33,139.80 119.47,139.80 140.00,139.80 C160.53,139.80 171.42,140.10 200.00,139.80 C228.58,139.50 292.92,138.30 311.50,138.00" fill="none" stroke="#1c1cc4" stroke-width="1.7" stroke-linejoin="round" stroke-linecap="round"/>
<rect x="53.20" y="0.80" width="281.60" height="228.80" fill="none" stroke="#000" stroke-width="1.6"/>
<line x1="48.20" y1="214.70" x2="53.20" y2="214.70" stroke="#000" stroke-width="1.4"/>
<text transform="translate(46.50,219.25) scale(1,1.06)" x="0" y="0" font-family='"Liberation Serif", serif' font-size="13" font-weight="bold" text-anchor="end" fill="#000" stroke="#000" stroke-width="0.2">-10</text>
<line x1="48.20" y1="176.50" x2="53.20" y2="176.50" stroke="#000" stroke-width="1.4"/>
<text transform="translate(46.50,181.05) scale(1,1.06)" x="0" y="0" font-family='"Liberation Serif", serif' font-size="13" font-weight="bold" text-anchor="end" fill="#000" stroke="#000" stroke-width="0.2">-5</text>
<line x1="48.20" y1="138.30" x2="53.20" y2="138.30" stroke="#000" stroke-width="1.4"/>
<text transform="translate(46.50,142.85) scale(1,1.06)" x="0" y="0" font-family='"Liberation Serif", serif' font-size="13" font-weight="bold" text-anchor="end" fill="#000" stroke="#000" stroke-width="0.2">0</text>
<line x1="48.20" y1="100.10" x2="53.20" y2="100.10" stroke="#000" stroke-width="1.4"/>
<text transform="translate(46.50,104.65) scale(1,1.06)" x="0" y="0" font-family='"Liberation Serif", serif' font-size="13" font-weight="bold" text-anchor="end" fill="#000" stroke="#000" stroke-width="0.2">5</text>
<line x1="48.20" y1="61.90" x2="53.20" y2="61.90" stroke="#000" stroke-width="1.4"/>
<text transform="translate(46.50,66.45) scale(1,1.06)" x="0" y="0" font-family='"Liberation Serif", serif' font-size="13" font-weight="bold" text-anchor="end" fill="#000" stroke="#000" stroke-width="0.2">10</text>
<line x1="48.20" y1="23.70" x2="53.20" y2="23.70" stroke="#000" stroke-width="1.4"/>
<text transform="translate(46.50,28.25) scale(1,1.06)" x="0" y="0" font-family='"Liberation Serif", serif' font-size="13" font-weight="bold" text-anchor="end" fill="#000" stroke="#000" stroke-width="0.2">15</text>
<line x1="50.20" y1="195.60" x2="53.20" y2="195.60" stroke="#000" stroke-width="1.2"/>
<line x1="50.20" y1="157.40" x2="53.20" y2="157.40" stroke="#000" stroke-width="1.2"/>
<line x1="50.20" y1="119.20" x2="53.20" y2="119.20" stroke="#000" stroke-width="1.2"/>
<line x1="50.20" y1="81.00" x2="53.20" y2="81.00" stroke="#000" stroke-width="1.2"/>
<line x1="50.20" y1="42.80" x2="53.20" y2="42.80" stroke="#000" stroke-width="1.2"/>
<line x1="50.20" y1="4.60" x2="53.20" y2="4.60" stroke="#000" stroke-width="1.2"/>
<line x1="60.70" y1="229.60" x2="60.70" y2="234.60" stroke="#000" stroke-width="1.4"/>
<text transform="translate(60.70,247.60) scale(1,1.06)" x="0" y="0" font-family='"Liberation Serif", serif' font-size="13" font-weight="bold" text-anchor="middle" fill="#000" stroke="#000" stroke-width="0.2">-0.5</text>
<line x1="139.30" y1="229.60" x2="139.30" y2="234.60" stroke="#000" stroke-width="1.4"/>
<text transform="translate(139.30,247.60) scale(1,1.06)" x="0" y="0" font-family='"Liberation Serif", serif' font-size="13" font-weight="bold" text-anchor="middle" fill="#000" stroke="#000" stroke-width="0.2">0.0</text>
<line x1="217.90" y1="229.60" x2="217.90" y2="234.60" stroke="#000" stroke-width="1.4"/>
<text transform="translate(217.90,247.60) scale(1,1.06)" x="0" y="0" font-family='"Liberation Serif", serif' font-size="13" font-weight="bold" text-anchor="middle" fill="#000" stroke="#000" stroke-width="0.2">0.5</text>
<line x1="296.50" y1="229.60" x2="296.50" y2="234.60" stroke="#000" stroke-width="1.4"/>
<text transform="translate(296.50,247.60) scale(1,1.06)" x="0" y="0" font-family='"Liberation Serif", serif' font-size="13" font-weight="bold" text-anchor="middle" fill="#000" stroke="#000" stroke-width="0.2">1.0</text>
<line x1="100.00" y1="229.60" x2="100.00" y2="232.60" stroke="#000" stroke-width="1.2"/>
<line x1="178.60" y1="229.60" x2="178.60" y2="232.60" stroke="#000" stroke-width="1.2"/>
<line x1="257.20" y1="229.60" x2="257.20" y2="232.60" stroke="#000" stroke-width="1.2"/>
<line x1="335.80" y1="229.60" x2="335.80" y2="232.60" stroke="#000" stroke-width="1.2"/>
<text x="185.50" y="266.50" font-family='"Liberation Serif", serif' font-size="23.3" font-weight="bold" text-anchor="middle" fill="#000">E (V vs Ag/AgCl)</text>
<text transform="translate(26.80,114.20) rotate(-90)" x="0" y="0" font-family='"Liberation Serif", serif' font-size="23.7" font-weight="bold" text-anchor="middle" fill="#000">Current Density (A g<tspan font-size="0.62em" dy="-0.88em">-1</tspan><tspan dy="0.5456em">)</tspan></text>
<text transform="translate(59.70,22.10) scale(0.9,1)" x="0" y="0" font-family='"Liberation Sans", sans-serif' font-size="21.5" fill="#000">(a)</text>
<line x1="257.20" y1="13.20" x2="281.80" y2="13.20" stroke="#000" stroke-width="1.9"/>
<text x="285.20" y="16.36" font-family='"Liberation Serif", serif' font-size="13.2" font-weight="bold" text-anchor="start" fill="#000" stroke="#000" stroke-width="0.15">PS-FLG</text>
<line x1="257.20" y1="29.50" x2="281.80" y2="29.50" stroke="#d82a2a" stroke-width="1.9"/>
<text x="285.20" y="32.66" font-family='"Liberation Serif", serif' font-size="13.2" font-weight="bold" text-anchor="start" fill="#d82a2a" stroke="#d82a2a" stroke-width="0.15">PS-AC</text>
<line x1="257.20" y1="45.80" x2="281.80" y2="45.80" stroke="#1c1cc4" stroke-width="1.9"/>
<text x="285.20" y="48.96" font-family='"Liberation Serif", serif' font-size="13.2" font-weight="bold" text-anchor="start" fill="#1c1cc4" stroke="#1c1cc4" stroke-width="0.15">PS-C</text>
<path d="M402.40,112.40 C407.00,112.00 410.73,110.82 430.00,110.00 C449.27,109.18 496.33,108.32 518.00,107.50 C539.67,106.68 546.33,105.85 560.00,105.10 C573.67,104.35 590.33,103.60 600.00,103.00 C609.67,102.40 613.80,101.90 618.00,101.50 C622.20,101.10 624.00,100.75 625.20,100.60" fill="none" stroke="#3fe0e8" stroke-width="1.8" stroke-linejoin="round" stroke-linecap="round"/>
<path d="M625.20,100.60 C625.17,101.17 625.70,102.68 625.00,104.00 C624.30,105.32 623.50,107.40 621.00,108.50 C618.50,109.60 620.17,109.97 610.00,110.60 C599.83,111.23 575.33,111.57 560.00,112.30 C544.67,113.03 544.27,114.25 518.00,115.00 C491.73,115.75 421.67,116.50 402.40,116.80" fill="none" stroke="#3fe0e8" stroke-width="1.8" stroke-linejoin="round" stroke-linecap="round"/>
<path d="M402.40,116.80 L402.40,112.40" fill="none" stroke="#3fe0e8" stroke-width="1.8" stroke-linejoin="round"/>
<path d="M402.40,112.40 C421.67,111.92 491.73,110.38 518.00,109.50 C544.27,108.62 543.33,107.82 560.00,107.10 C576.67,106.38 607.10,105.68 618.00,105.20 C628.90,104.72 624.17,104.37 625.40,104.20" fill="none" stroke="#ee22ee" stroke-width="1.6" stroke-linejoin="round" stroke-linecap="round"/>
<path d="M625.40,104.20 C625.17,104.75 625.73,106.53 624.00,107.50 C622.27,108.47 625.67,109.45 615.00,110.00 C604.33,110.55 576.17,110.30 560.00,110.80 C543.83,111.30 544.27,112.38 518.00,113.00 C491.73,113.62 421.67,114.25 402.40,114.50" fill="none" stroke="#ee22ee" stroke-width="1.6" stroke-linejoin="round" stroke-linecap="round"/>
<path d="M402.40,114.50 L402.40,112.40" fill="none" stroke="#ee22ee" stroke-width="1.6" stroke-linejoin="round"/>
<path d="M402.40,111.80 C421.67,111.60 491.73,111.05 518.00,110.60 C544.27,110.15 542.17,109.62 560.00,109.10 C577.83,108.58 614.17,107.77 625.00,107.50" fill="none" stroke="#f2e34a" stroke-width="1.7" stroke-linejoin="round" stroke-linecap="round"/>
<path d="M625.00,107.50 C624.50,107.88 626.17,109.25 622.00,109.80 C617.83,110.35 617.33,110.40 600.00,110.80 C582.67,111.20 550.93,111.90 518.00,112.20 C485.07,112.50 421.67,112.53 402.40,112.60" fill="none" stroke="#f2e34a" stroke-width="1.7" stroke-linejoin="round" stroke-linecap="round"/>
<path d="M402.40,112.60 L402.40,111.80" fill="none" stroke="#f2e34a" stroke-width="1.7" stroke-linejoin="round"/>
<path d="M402.40,112.40 C404.58,111.53 407.47,108.37 415.50,107.20 C423.53,106.03 433.52,106.28 450.60,105.40 C467.68,104.52 499.77,102.60 518.00,101.90 C536.23,101.20 546.33,101.78 560.00,101.20 C573.67,100.62 590.43,99.30 600.00,98.40 C609.57,97.50 613.30,96.57 617.40,95.80 C621.50,95.03 623.40,94.13 624.60,93.80" fill="none" stroke="#1c1cc4" stroke-width="1.9" stroke-linejoin="round" stroke-linecap="round"/>
<path d="M624.60,93.80 C624.63,94.80 625.10,97.92 624.80,99.80 C624.50,101.68 624.03,103.55 622.80,105.10 C621.57,106.65 620.08,107.98 617.40,109.10 C614.72,110.22 612.93,111.07 606.70,111.80 C600.47,112.53 594.78,112.72 580.00,113.50 C565.22,114.28 539.57,115.52 518.00,116.50 C496.43,117.48 469.87,118.48 450.60,119.40 C431.33,120.32 410.43,121.57 402.40,122.00" fill="none" stroke="#1c1cc4" stroke-width="1.9" stroke-linejoin="round" stroke-linecap="round"/>
<path d="M402.40,122.00 L402.40,112.40" fill="none" stroke="#1c1cc4" stroke-width="1.9" stroke-linejoin="round"/>
<path d="M402.40,112.40 C403.42,111.67 403.40,109.60 408.50,108.00 C413.60,106.40 423.08,104.25 433.00,102.80 C442.92,101.35 453.83,100.47 468.00,99.30 C482.17,98.13 502.67,96.62 518.00,95.80 C533.33,94.98 546.33,95.30 560.00,94.40 C573.67,93.50 590.65,91.73 600.00,90.40 C609.35,89.07 612.02,87.52 616.10,86.40 C620.18,85.28 623.10,84.15 624.50,83.70" fill="none" stroke="#33dd33" stroke-width="1.8" stroke-linejoin="round" stroke-linecap="round"/>
<path d="M624.50,83.70 C624.43,85.05 624.38,89.12 624.10,91.80 C623.82,94.48 623.70,97.37 622.80,99.80 C621.90,102.23 620.72,104.52 618.70,106.40 C616.68,108.28 614.92,109.75 610.70,111.10 C606.48,112.45 601.85,113.27 593.40,114.50 C584.95,115.73 572.57,117.32 560.00,118.50 C547.43,119.68 536.23,120.43 518.00,121.60 C499.77,122.77 469.87,124.12 450.60,125.50 C431.33,126.88 410.43,129.17 402.40,129.90" fill="none" stroke="#33dd33" stroke-width="1.8" stroke-linejoin="round" stroke-linecap="round"/>
<path d="M402.40,129.90 L402.40,112.40" fill="none" stroke="#33dd33" stroke-width="1.8" stroke-linejoin="round"/>
<path d="M402.40,112.40 C403.13,111.38 404.62,108.20 406.80,106.30 C408.98,104.40 411.13,102.75 415.50,101.00 C419.87,99.25 424.25,97.98 433.00,95.80 C441.75,93.62 455.17,90.10 468.00,87.90 C480.83,85.70 500.08,83.98 510.00,82.60 C519.92,81.22 521.67,80.45 527.50,79.60 C533.33,78.75 539.58,78.15 545.00,77.50 C550.42,76.85 553.05,76.77 560.00,75.70 C566.95,74.63 577.80,72.87 586.70,71.10 C595.60,69.33 607.10,66.88 613.40,65.10 C619.70,63.32 622.65,61.18 624.50,60.40" fill="none" stroke="#d82a2a" stroke-width="1.7" stroke-linejoin="round" stroke-linecap="round"/>
<path d="M624.50,60.40 C624.43,61.85 624.38,65.65 624.10,69.10 C623.82,72.55 623.47,77.32 622.80,81.10 C622.13,84.88 621.22,88.47 620.10,91.80 C618.98,95.13 617.67,98.43 616.10,101.10 C614.53,103.77 613.38,105.57 610.70,107.80 C608.02,110.03 605.12,112.28 600.00,114.50 C594.88,116.72 586.67,119.10 580.00,121.10 C573.33,123.10 570.33,124.60 560.00,126.50 C549.67,128.40 536.23,130.32 518.00,132.50 C499.77,134.68 469.87,137.25 450.60,139.60 C431.33,141.95 410.43,145.43 402.40,146.60" fill="none" stroke="#d82a2a" stroke-width="1.7" stroke-linejoin="round" stroke-linecap="round"/>
<path d="M402.40,146.60 L402.40,112.40" fill="none" stroke="#d82a2a" stroke-width="1.7" stroke-linejoin="round"/>
<path d="M402.40,112.40 C402.58,111.75 402.98,109.65 403.50,108.50 C404.02,107.35 404.37,106.90 405.50,105.50 C406.63,104.10 408.05,101.87 410.30,100.10 C412.55,98.33 415.22,96.78 419.00,94.90 C422.78,93.02 427.73,90.98 433.00,88.80 C438.27,86.62 444.43,84.18 450.60,81.80 C456.77,79.42 463.83,76.67 470.00,74.50 C476.17,72.33 480.93,70.63 487.60,68.80 C494.27,66.97 503.35,65.13 510.00,63.50 C516.65,61.87 521.67,60.58 527.50,59.00 C533.33,57.42 539.58,55.43 545.00,54.00 C550.42,52.57 553.05,52.12 560.00,50.40 C566.95,48.68 578.92,45.82 586.70,43.70 C594.48,41.58 600.40,40.03 606.70,37.70 C613.00,35.37 621.53,31.03 624.50,29.70" fill="none" stroke="#000" stroke-width="1.8" stroke-linejoin="round" stroke-linecap="round"/>
<path d="M624.50,29.70 C624.22,32.48 623.43,41.40 622.80,46.40 C622.17,51.40 621.48,55.25 620.70,59.70 C619.92,64.15 619.10,68.87 618.10,73.10 C617.10,77.33 616.15,81.10 614.70,85.10 C613.25,89.10 611.40,93.32 609.40,97.10 C607.40,100.88 605.37,104.68 602.70,107.80 C600.03,110.92 597.18,113.35 593.40,115.80 C589.62,118.25 585.57,120.28 580.00,122.50 C574.43,124.72 570.33,125.97 560.00,129.10 C549.67,132.23 533.33,137.65 518.00,141.30 C502.67,144.95 482.17,148.08 468.00,151.00 C453.83,153.92 443.93,155.88 433.00,158.80 C422.07,161.72 407.50,166.88 402.40,168.50" fill="none" stroke="#000" stroke-width="1.8" stroke-linejoin="round" stroke-linecap="round"/>
<path d="M402.40,168.50 L402.40,112.40" fill="none" stroke="#000" stroke-width="1.8" stroke-linejoin="round"/>
<rect x="387.60" y="0.80" width="281.60" height="229.10" fill="none" stroke="#000" stroke-width="1.6"/>
<line x1="382.60" y1="229.89" x2="387.60" y2="229.89" stroke="#000" stroke-width="1.4"/>
<text transform="translate(379.50,234.44) scale(1,1.06)" x="0" y="0" font-family='"Liberation Serif", serif' font-size="13" font-weight="bold" text-anchor="end" fill="#000" stroke="#000" stroke-width="0.2">-120</text>
<line x1="382.60" y1="199.99" x2="387.60" y2="199.99" stroke="#000" stroke-width="1.4"/>
<text transform="translate(379.50,204.54) scale(1,1.06)" x="0" y="0" font-family='"Liberation Serif", serif' font-size="13" font-weight="bold" text-anchor="end" fill="#000" stroke="#000" stroke-width="0.2">-90</text>
<line x1="382.60" y1="170.10" x2="387.60" y2="170.10" stroke="#000" stroke-width="1.4"/>
<text transform="translate(379.50,174.65) scale(1,1.06)" x="0" y="0" font-family='"Liberation Serif", serif' font-size="13" font-weight="bold" text-anchor="end" fill="#000" stroke="#000" stroke-width="0.2">-60</text>
<line x1="382.60" y1="140.20" x2="387.60" y2="140.20" stroke="#000" stroke-width="1.4"/>
<text transform="translate(379.50,144.75) scale(1,1.06)" x="0" y="0" font-family='"Liberation Serif", serif' font-size="13" font-weight="bold" text-anchor="end" fill="#000" stroke="#000" stroke-width="0.2">-30</text>
<line x1="382.60" y1="110.30" x2="387.60" y2="110.30" stroke="#000" stroke-width="1.4"/>
<text transform="translate(379.50,114.85) scale(1,1.06)" x="0" y="0" font-family='"Liberation Serif", serif' font-size="13" font-weight="bold" text-anchor="end" fill="#000" stroke="#000" stroke-width="0.2">0</text>
<line x1="382.60" y1="80.40" x2="387.60" y2="80.40" stroke="#000" stroke-width="1.4"/>
<text transform="translate(379.50,84.95) scale(1,1.06)" x="0" y="0" font-family='"Liberation Serif", serif' font-size="13" font-weight="bold" text-anchor="end" fill="#000" stroke="#000" stroke-width="0.2">30</text>
<line x1="382.60" y1="50.50" x2="387.60" y2="50.50" stroke="#000" stroke-width="1.4"/>
<text transform="translate(379.50,55.05) scale(1,1.06)" x="0" y="0" font-family='"Liberation Serif", serif' font-size="13" font-weight="bold" text-anchor="end" fill="#000" stroke="#000" stroke-width="0.2">60</text>
<line x1="382.60" y1="20.61" x2="387.60" y2="20.61" stroke="#000" stroke-width="1.4"/>
<text transform="translate(379.50,25.16) scale(1,1.06)" x="0" y="0" font-family='"Liberation Serif", serif' font-size="13" font-weight="bold" text-anchor="end" fill="#000" stroke="#000" stroke-width="0.2">90</text>
<line x1="384.60" y1="214.94" x2="387.60" y2="214.94" stroke="#000" stroke-width="1.2"/>
<line x1="384.60" y1="185.05" x2="387.60" y2="185.05" stroke="#000" stroke-width="1.2"/>
<line x1="384.60" y1="155.15" x2="387.60" y2="155.15" stroke="#000" stroke-width="1.2"/>
<line x1="384.60" y1="125.25" x2="387.60" y2="125.25" stroke="#000" stroke-width="1.2"/>
<line x1="384.60" y1="95.35" x2="387.60" y2="95.35" stroke="#000" stroke-width="1.2"/>
<line x1="384.60" y1="65.45" x2="387.60" y2="65.45" stroke="#000" stroke-width="1.2"/>
<line x1="384.60" y1="35.55" x2="387.60" y2="35.55" stroke="#000" stroke-width="1.2"/>
<line x1="384.60" y1="5.66" x2="387.60" y2="5.66" stroke="#000" stroke-width="1.2"/>
<line x1="416.91" y1="229.90" x2="416.91" y2="234.90" stroke="#000" stroke-width="1.4"/>
<text transform="translate(416.91,248.30) scale(1,1.06)" x="0" y="0" font-family='"Liberation Serif", serif' font-size="13" font-weight="bold" text-anchor="middle" fill="#000" stroke="#000" stroke-width="0.2">-0.3</text>
<line x1="461.40" y1="229.90" x2="461.40" y2="234.90" stroke="#000" stroke-width="1.4"/>
<text transform="translate(461.40,248.30) scale(1,1.06)" x="0" y="0" font-family='"Liberation Serif", serif' font-size="13" font-weight="bold" text-anchor="middle" fill="#000" stroke="#000" stroke-width="0.2">0.0</text>
<line x1="505.89" y1="229.90" x2="505.89" y2="234.90" stroke="#000" stroke-width="1.4"/>
<text transform="translate(505.89,248.30) scale(1,1.06)" x="0" y="0" font-family='"Liberation Serif", serif' font-size="13" font-weight="bold" text-anchor="middle" fill="#000" stroke="#000" stroke-width="0.2">0.3</text>
<line x1="550.38" y1="229.90" x2="550.38" y2="234.90" stroke="#000" stroke-width="1.4"/>
<text transform="translate(550.38,248.30) scale(1,1.06)" x="0" y="0" font-family='"Liberation Serif", serif' font-size="13" font-weight="bold" text-anchor="middle" fill="#000" stroke="#000" stroke-width="0.2">0.6</text>
<line x1="594.87" y1="229.90" x2="594.87" y2="234.90" stroke="#000" stroke-width="1.4"/>
<text transform="translate(594.87,248.30) scale(1,1.06)" x="0" y="0" font-family='"Liberation Serif", serif' font-size="13" font-weight="bold" text-anchor="middle" fill="#000" stroke="#000" stroke-width="0.2">0.9</text>
<line x1="639.36" y1="229.90" x2="639.36" y2="234.90" stroke="#000" stroke-width="1.4"/>
<text transform="translate(639.36,248.30) scale(1,1.06)" x="0" y="0" font-family='"Liberation Serif", serif' font-size="13" font-weight="bold" text-anchor="middle" fill="#000" stroke="#000" stroke-width="0.2">1.2</text>
<line x1="394.66" y1="229.90" x2="394.66" y2="232.90" stroke="#000" stroke-width="1.2"/>
<line x1="439.15" y1="229.90" x2="439.15" y2="232.90" stroke="#000" stroke-width="1.2"/>
<line x1="483.64" y1="229.90" x2="483.64" y2="232.90" stroke="#000" stroke-width="1.2"/>
<line x1="528.13" y1="229.90" x2="528.13" y2="232.90" stroke="#000" stroke-width="1.2"/>
<line x1="572.62" y1="229.90" x2="572.62" y2="232.90" stroke="#000" stroke-width="1.2"/>
<line x1="617.12" y1="229.90" x2="617.12" y2="232.90" stroke="#000" stroke-width="1.2"/>
<line x1="661.61" y1="229.90" x2="661.61" y2="232.90" stroke="#000" stroke-width="1.2"/>
<text x="528.20" y="266.30" font-family='"Liberation Serif", serif' font-size="23.3" font-weight="bold" text-anchor="middle" fill="#000">E (V vs Ag/AgCl)</text>
<text transform="translate(356.50,115.40) rotate(-90)" x="0" y="0" font-family='"Liberation Serif", serif' font-size="23.5" font-weight="bold" text-anchor="middle" fill="#000">Current density (A g<tspan font-size="0.62em" dy="-0.88em">-1</tspan><tspan dy="0.5456em">)</tspan></text>
<text transform="translate(392.20,24.70) scale(0.9,1)" x="0" y="0" font-family='"Liberation Sans", sans-serif' font-size="21.5" fill="#000">(b)</text>
<line x1="592.30" y1="122.10" x2="608.40" y2="122.10" stroke="#f2e34a" stroke-width="2.2"/>
<text x="611.20" y="125.90" font-family='"Liberation Serif", serif' font-size="11.5" font-weight="bold" text-anchor="start" fill="#000" stroke="#000" stroke-width="0.12">10 mV s<tspan font-size="0.62em" dy="-0.75em">-1</tspan></text>
<line x1="592.30" y1="138.60" x2="608.40" y2="138.60" stroke="#ee22ee" stroke-width="2.2"/>
<text x="611.20" y="142.40" font-family='"Liberation Serif", serif' font-size="11.5" font-weight="bold" text-anchor="start" fill="#000" stroke="#000" stroke-width="0.12">25 mV s<tspan font-size="0.62em" dy="-0.75em">-1</tspan></text>
<line x1="592.30" y1="155.50" x2="608.40" y2="155.50" stroke="#3fe0e8" stroke-width="2.2"/>
<text x="611.20" y="159.30" font-family='"Liberation Serif", serif' font-size="11.5" font-weight="bold" text-anchor="start" fill="#000" stroke="#000" stroke-width="0.12">50 mV s<tspan font-size="0.62em" dy="-0.75em">-1</tspan></text>
<line x1="592.30" y1="172.20" x2="608.40" y2="172.20" stroke="#1c1cc4" stroke-width="2.2"/>
<text x="611.20" y="176.00" font-family='"Liberation Serif", serif' font-size="11.5" font-weight="bold" text-anchor="start" fill="#000" stroke="#000" stroke-width="0.12">100 mV s<tspan font-size="0.62em" dy="-0.75em">-1</tspan></text>
<line x1="592.30" y1="188.60" x2="608.40" y2="188.60" stroke="#33dd33" stroke-width="2.2"/>
<text x="611.20" y="192.40" font-family='"Liberation Serif", serif' font-size="11.5" font-weight="bold" text-anchor="start" fill="#000" stroke="#000" stroke-width="0.12">200 mV s<tspan font-size="0.62em" dy="-0.75em">-1</tspan></text>
<line x1="592.30" y1="205.40" x2="608.40" y2="205.40" stroke="#d82a2a" stroke-width="2.2"/>
<text x="611.20" y="209.20" font-family='"Liberation Serif", serif' font-size="11.5" font-weight="bold" text-anchor="start" fill="#000" stroke="#000" stroke-width="0.12">500 mV s<tspan font-size="0.62em" dy="-0.75em">-1</tspan></text>
<line x1="592.30" y1="221.80" x2="608.40" y2="221.80" stroke="#000" stroke-width="2.2"/>
<text x="611.20" y="225.60" font-family='"Liberation Serif", serif' font-size="11.5" font-weight="bold" text-anchor="start" fill="#000" stroke="#000" stroke-width="0.12">1000 mV s<tspan font-size="0.62em" dy="-0.75em">-1</tspan></text>
<path d="M79.80,492.20 C79.88,483.53 79.77,457.77 80.30,440.20 C80.83,422.63 81.88,404.60 83.00,386.80 C84.12,369.00 85.67,349.42 87.00,333.40 C88.33,317.38 90.33,297.82 91.00,290.70" fill="none" stroke="#d82a2a" stroke-width="1.6" stroke-linejoin="round" stroke-linecap="round"/>
<path d="M91.00,290.70 C91.23,297.82 91.73,317.38 92.40,333.40 C93.07,349.42 94.12,369.00 95.00,386.80 C95.88,404.60 96.50,422.63 97.70,440.20 C98.90,457.77 101.45,483.53 102.20,492.20" fill="none" stroke="#d82a2a" stroke-width="1.6" stroke-linejoin="round" stroke-linecap="round"/>
<path d="M80.30,492.20 L81.70,291.50 L84.30,492.20" fill="none" stroke="#1c1cc4" stroke-width="1.7" stroke-linejoin="round"/>
<path d="M79.80,492.20 C80.12,488.87 80.72,478.65 81.70,472.20 C82.68,465.75 84.15,459.73 85.70,453.50 C87.25,447.27 88.78,441.47 91.00,434.80 C93.22,428.13 95.88,420.62 99.00,413.50 C102.12,406.38 106.58,397.88 109.70,392.10 C112.82,386.32 114.58,384.13 117.70,378.80 C120.82,373.47 124.83,366.33 128.40,360.10 C131.97,353.87 135.55,347.18 139.10,341.40 C142.65,335.62 146.15,330.30 149.70,325.40 C153.25,320.50 156.38,316.00 160.40,312.00 C164.42,308.00 169.35,304.28 173.80,301.40 C178.25,298.52 182.82,296.48 187.10,294.70 C191.38,292.92 197.43,291.37 199.50,290.70" fill="none" stroke="#000" stroke-width="1.7" stroke-linejoin="round" stroke-linecap="round"/>
<path d="M199.50,290.70 C199.63,293.37 199.50,300.92 200.30,306.70 C201.10,312.48 202.52,319.17 204.30,325.40 C206.08,331.63 208.10,337.43 211.00,344.10 C213.90,350.77 217.70,358.73 221.70,365.40 C225.70,372.07 230.55,377.87 235.00,384.10 C239.45,390.33 243.95,396.12 248.40,402.80 C252.85,409.48 257.25,417.53 261.70,424.20 C266.15,430.87 270.65,437.02 275.10,442.80 C279.55,448.58 283.95,453.55 288.40,458.90 C292.85,464.25 296.98,469.22 301.80,474.90 C306.62,480.58 314.72,489.98 317.30,493.00" fill="none" stroke="#000" stroke-width="1.7" stroke-linejoin="round" stroke-linecap="round"/>
<rect x="54.60" y="276.40" width="281.00" height="230.20" fill="none" stroke="#000" stroke-width="1.6"/>
<line x1="49.60" y1="493.00" x2="54.60" y2="493.00" stroke="#000" stroke-width="1.4"/>
<text transform="translate(47.00,497.55) scale(1,1.06)" x="0" y="0" font-family='"Liberation Serif", serif' font-size="13" font-weight="bold" text-anchor="end" fill="#000" stroke="#000" stroke-width="0.2">-0.4</text>
<line x1="49.60" y1="438.80" x2="54.60" y2="438.80" stroke="#000" stroke-width="1.4"/>
<text transform="translate(47.00,443.35) scale(1,1.06)" x="0" y="0" font-family='"Liberation Serif", serif' font-size="13" font-weight="bold" text-anchor="end" fill="#000" stroke="#000" stroke-width="0.2">0.0</text>
<line x1="49.60" y1="384.60" x2="54.60" y2="384.60" stroke="#000" stroke-width="1.4"/>
<text transform="translate(47.00,389.15) scale(1,1.06)" x="0" y="0" font-family='"Liberation Serif", serif' font-size="13" font-weight="bold" text-anchor="end" fill="#000" stroke="#000" stroke-width="0.2">0.4</text>
<line x1="49.60" y1="330.40" x2="54.60" y2="330.40" stroke="#000" stroke-width="1.4"/>
<text transform="translate(47.00,334.95) scale(1,1.06)" x="0" y="0" font-family='"Liberation Serif", serif' font-size="13" font-weight="bold" text-anchor="end" fill="#000" stroke="#000" stroke-width="0.2">0.8</text>
<line x1="49.60" y1="276.20" x2="54.60" y2="276.20" stroke="#000" stroke-width="1.4"/>
<text transform="translate(47.00,280.75) scale(1,1.06)" x="0" y="0" font-family='"Liberation Serif", serif' font-size="13" font-weight="bold" text-anchor="end" fill="#000" stroke="#000" stroke-width="0.2">1.2</text>
<line x1="51.60" y1="465.90" x2="54.60" y2="465.90" stroke="#000" stroke-width="1.2"/>
<line x1="51.60" y1="411.70" x2="54.60" y2="411.70" stroke="#000" stroke-width="1.2"/>
<line x1="51.60" y1="357.50" x2="54.60" y2="357.50" stroke="#000" stroke-width="1.2"/>
<line x1="51.60" y1="303.30" x2="54.60" y2="303.30" stroke="#000" stroke-width="1.2"/>
<line x1="80.00" y1="506.60" x2="80.00" y2="511.60" stroke="#000" stroke-width="1.4"/>
<text transform="translate(80.00,524.30) scale(1,1.06)" x="0" y="0" font-family='"Liberation Serif", serif' font-size="13" font-weight="bold" text-anchor="middle" fill="#000" stroke="#000" stroke-width="0.2">0</text>
<line x1="131.10" y1="506.60" x2="131.10" y2="511.60" stroke="#000" stroke-width="1.4"/>
<text transform="translate(131.10,524.30) scale(1,1.06)" x="0" y="0" font-family='"Liberation Serif", serif' font-size="13" font-weight="bold" text-anchor="middle" fill="#000" stroke="#000" stroke-width="0.2">100</text>
<line x1="182.20" y1="506.60" x2="182.20" y2="511.60" stroke="#000" stroke-width="1.4"/>
<text transform="translate(182.20,524.30) scale(1,1.06)" x="0" y="0" font-family='"Liberation Serif", serif' font-size="13" font-weight="bold" text-anchor="middle" fill="#000" stroke="#000" stroke-width="0.2">200</text>
<line x1="233.30" y1="506.60" x2="233.30" y2="511.60" stroke="#000" stroke-width="1.4"/>
<text transform="translate(233.30,524.30) scale(1,1.06)" x="0" y="0" font-family='"Liberation Serif", serif' font-size="13" font-weight="bold" text-anchor="middle" fill="#000" stroke="#000" stroke-width="0.2">300</text>
<line x1="284.40" y1="506.60" x2="284.40" y2="511.60" stroke="#000" stroke-width="1.4"/>
<text transform="translate(284.40,524.30) scale(1,1.06)" x="0" y="0" font-family='"Liberation Serif", serif' font-size="13" font-weight="bold" text-anchor="middle" fill="#000" stroke="#000" stroke-width="0.2">400</text>
<line x1="335.50" y1="506.60" x2="335.50" y2="511.60" stroke="#000" stroke-width="1.4"/>
<text transform="translate(335.50,524.30) scale(1,1.06)" x="0" y="0" font-family='"Liberation Serif", serif' font-size="13" font-weight="bold" text-anchor="middle" fill="#000" stroke="#000" stroke-width="0.2">500</text>
<line x1="54.45" y1="506.60" x2="54.45" y2="509.60" stroke="#000" stroke-width="1.2"/>
<line x1="105.55" y1="506.60" x2="105.55" y2="509.60" stroke="#000" stroke-width="1.2"/>
<line x1="156.65" y1="506.60" x2="156.65" y2="509.60" stroke="#000" stroke-width="1.2"/>
<line x1="207.75" y1="506.60" x2="207.75" y2="509.60" stroke="#000" stroke-width="1.2"/>
<line x1="258.85" y1="506.60" x2="258.85" y2="509.60" stroke="#000" stroke-width="1.2"/>
<line x1="309.95" y1="506.60" x2="309.95" y2="509.60" stroke="#000" stroke-width="1.2"/>
<text x="199.20" y="543.60" font-family='"Liberation Serif", serif' font-size="23.3" font-weight="bold" text-anchor="middle" fill="#000">Time (s)</text>
<text transform="translate(21.10,391.20) rotate(-90)" x="0" y="0" font-family='"Liberation Serif", serif' font-size="23.7" font-weight="bold" text-anchor="middle" fill="#000">E(V vs Ag/AgCl)</text>
<text transform="translate(56.90,296.30) scale(0.9,1)" x="0" y="0" font-family='"Liberation Sans", sans-serif' font-size="21.5" fill="#000">(c)</text>
<line x1="257.20" y1="289.20" x2="281.80" y2="289.20" stroke="#000" stroke-width="1.9"/>
<text x="285.20" y="292.36" font-family='"Liberation Serif", serif' font-size="13.2" font-weight="bold" text-anchor="start" fill="#000" stroke="#000" stroke-width="0.15">PS-FLG</text>
<line x1="257.20" y1="305.40" x2="281.80" y2="305.40" stroke="#d82a2a" stroke-width="1.9"/>
<text x="285.20" y="308.56" font-family='"Liberation Serif", serif' font-size="13.2" font-weight="bold" text-anchor="start" fill="#d82a2a" stroke="#d82a2a" stroke-width="0.15">PS-AC</text>
<line x1="257.20" y1="321.50" x2="281.80" y2="321.50" stroke="#1c1cc4" stroke-width="1.9"/>
<text x="285.20" y="324.66" font-family='"Liberation Serif", serif' font-size="13.2" font-weight="bold" text-anchor="start" fill="#1c1cc4" stroke="#1c1cc4" stroke-width="0.15">PS-C</text>
<path d="M397.90,374.70 C398.12,373.25 398.70,368.68 399.20,366.00 C399.70,363.32 400.22,360.65 400.90,358.60 C401.58,356.55 402.10,355.73 403.30,353.70 C404.50,351.67 406.28,348.93 408.10,346.40 C409.92,343.87 412.17,340.92 414.20,338.50 C416.23,336.08 418.37,334.02 420.30,331.90 C422.23,329.78 423.33,328.57 425.80,325.80 C428.27,323.03 432.20,318.38 435.10,315.30 C438.00,312.22 440.52,309.70 443.20,307.30 C445.88,304.90 448.00,302.90 451.20,300.90 C454.40,298.90 458.38,296.78 462.40,295.30 C466.42,293.82 471.02,292.82 475.30,292.00 C479.58,291.18 484.12,290.80 488.10,290.40 C492.08,290.00 497.35,289.73 499.20,289.60" fill="none" stroke="#000" stroke-width="1.8" stroke-linejoin="round" stroke-linecap="round"/>
<path d="M499.20,289.60 C499.43,291.22 499.70,296.22 500.60,299.30 C501.50,302.38 502.85,305.43 504.60,308.10 C506.35,310.77 508.15,312.48 511.10,315.30 C514.05,318.12 518.30,321.78 522.30,325.00 C526.30,328.22 530.82,331.40 535.10,334.60 C539.38,337.80 543.45,340.98 548.00,344.20 C552.55,347.42 557.85,351.08 562.40,353.90 C566.95,356.72 571.02,358.57 575.30,361.10 C579.58,363.63 583.95,366.83 588.10,369.10 C592.25,371.37 598.18,373.77 600.20,374.70" fill="none" stroke="#000" stroke-width="1.8" stroke-linejoin="round" stroke-linecap="round"/>
<path d="M397.90,374.70 C398.30,372.02 399.40,363.32 400.30,358.60 C401.20,353.88 402.00,350.45 403.30,346.40 C404.60,342.35 406.28,338.85 408.10,334.30 C409.92,329.75 412.37,323.15 414.20,319.10 C416.03,315.05 417.48,312.77 419.10,310.00 C420.72,307.23 421.77,305.22 423.90,302.50 C426.03,299.78 429.08,295.85 431.90,293.70 C434.72,291.55 439.32,290.28 440.80,289.60" fill="none" stroke="#d82a2a" stroke-width="1.7" stroke-linejoin="round" stroke-linecap="round"/>
<path d="M440.80,289.60 C441.20,292.55 442.00,302.22 443.20,307.30 C444.40,312.38 445.87,316.08 448.00,320.10 C450.13,324.12 453.32,327.38 456.00,331.40 C458.68,335.42 461.42,339.92 464.10,344.20 C466.78,348.48 469.03,352.02 472.10,357.10 C475.17,362.18 480.77,371.77 482.50,374.70" fill="none" stroke="#d82a2a" stroke-width="1.7" stroke-linejoin="round" stroke-linecap="round"/>
<path d="M397.90,374.70 C398.18,371.00 399.00,358.62 399.60,352.50 C400.20,346.38 400.88,342.05 401.50,338.00 C402.12,333.95 402.72,331.53 403.30,328.20 C403.88,324.87 404.35,321.03 405.00,318.00 C405.65,314.97 406.28,313.08 407.20,310.00 C408.12,306.92 409.18,302.90 410.50,299.50 C411.82,296.10 414.33,291.25 415.10,289.60" fill="none" stroke="#33dd33" stroke-width="1.7" stroke-linejoin="round" stroke-linecap="round"/>
<path d="M415.10,289.60 C415.35,293.00 416.07,304.93 416.60,310.00 C417.13,315.07 417.68,316.47 418.30,320.00 C418.92,323.53 419.52,327.37 420.30,331.20 C421.08,335.03 422.08,338.85 423.00,343.00 C423.92,347.15 424.25,350.82 425.80,356.10 C427.35,361.38 431.22,371.60 432.30,374.70" fill="none" stroke="#33dd33" stroke-width="1.7" stroke-linejoin="round" stroke-linecap="round"/>
<path d="M397.90,374.70 L402.70,289.60 L408.20,374.70" fill="none" stroke="#1c1cc4" stroke-width="1.7" stroke-linejoin="round"/>
<rect x="389.20" y="276.40" width="282.20" height="104.00" fill="none" stroke="#000" stroke-width="1.6"/>
<line x1="384.20" y1="351.80" x2="389.20" y2="351.80" stroke="#000" stroke-width="1.4"/>
<text transform="translate(382.30,356.35) scale(1,1.06)" x="0" y="0" font-family='"Liberation Serif", serif' font-size="13" font-weight="bold" text-anchor="end" fill="#000" stroke="#000" stroke-width="0.2">0.0</text>
<line x1="384.20" y1="317.90" x2="389.20" y2="317.90" stroke="#000" stroke-width="1.4"/>
<text transform="translate(382.30,322.45) scale(1,1.06)" x="0" y="0" font-family='"Liberation Serif", serif' font-size="13" font-weight="bold" text-anchor="end" fill="#000" stroke="#000" stroke-width="0.2">0.6</text>
<line x1="384.20" y1="284.00" x2="389.20" y2="284.00" stroke="#000" stroke-width="1.4"/>
<text transform="translate(382.30,288.55) scale(1,1.06)" x="0" y="0" font-family='"Liberation Serif", serif' font-size="13" font-weight="bold" text-anchor="end" fill="#000" stroke="#000" stroke-width="0.2">1.2</text>
<line x1="386.20" y1="368.75" x2="389.20" y2="368.75" stroke="#000" stroke-width="1.2"/>
<line x1="386.20" y1="334.85" x2="389.20" y2="334.85" stroke="#000" stroke-width="1.2"/>
<line x1="386.20" y1="300.95" x2="389.20" y2="300.95" stroke="#000" stroke-width="1.2"/>
<line x1="397.80" y1="380.40" x2="397.80" y2="385.40" stroke="#000" stroke-width="1.4"/>
<text transform="translate(397.80,397.00) scale(1,1.06)" x="0" y="0" font-family='"Liberation Serif", serif' font-size="13" font-weight="bold" text-anchor="middle" fill="#000" stroke="#000" stroke-width="0.2">0</text>
<line x1="470.60" y1="380.40" x2="470.60" y2="385.40" stroke="#000" stroke-width="1.4"/>
<text transform="translate(470.60,397.00) scale(1,1.06)" x="0" y="0" font-family='"Liberation Serif", serif' font-size="13" font-weight="bold" text-anchor="middle" fill="#000" stroke="#000" stroke-width="0.2">400</text>
<line x1="543.40" y1="380.40" x2="543.40" y2="385.40" stroke="#000" stroke-width="1.4"/>
<text transform="translate(543.40,397.00) scale(1,1.06)" x="0" y="0" font-family='"Liberation Serif", serif' font-size="13" font-weight="bold" text-anchor="middle" fill="#000" stroke="#000" stroke-width="0.2">800</text>
<line x1="616.20" y1="380.40" x2="616.20" y2="385.40" stroke="#000" stroke-width="1.4"/>
<text transform="translate(616.20,397.00) scale(1,1.06)" x="0" y="0" font-family='"Liberation Serif", serif' font-size="13" font-weight="bold" text-anchor="middle" fill="#000" stroke="#000" stroke-width="0.2">1200</text>
<line x1="434.20" y1="380.40" x2="434.20" y2="383.40" stroke="#000" stroke-width="1.2"/>
<line x1="507.00" y1="380.40" x2="507.00" y2="383.40" stroke="#000" stroke-width="1.2"/>
<line x1="579.80" y1="380.40" x2="579.80" y2="383.40" stroke="#000" stroke-width="1.2"/>
<line x1="652.60" y1="380.40" x2="652.60" y2="383.40" stroke="#000" stroke-width="1.2"/>
<text transform="translate(539.30,308.40) scale(0.9,1)" x="0" y="0" font-family='"Liberation Sans", sans-serif' font-size="21.5" fill="#000">(d)</text>
<line x1="593.10" y1="285.50" x2="617.90" y2="285.50" stroke="#000" stroke-width="2.2"/>
<text x="620.50" y="289.70" font-family='"Liberation Serif", serif' font-size="13" font-weight="bold" text-anchor="start" fill="#000" stroke="#000" stroke-width="0.12" word-spacing="1">0.5 A g<tspan font-size="0.62em" dy="-0.75em">-1</tspan></text>
<line x1="593.10" y1="302.90" x2="617.90" y2="302.90" stroke="#d82a2a" stroke-width="2.2"/>
<text x="620.50" y="307.10" font-family='"Liberation Serif", serif' font-size="13" font-weight="bold" text-anchor="start" fill="#000" stroke="#000" stroke-width="0.12" word-spacing="1">1 A g<tspan font-size="0.62em" dy="-0.75em">-1</tspan></text>
<line x1="593.10" y1="320.60" x2="617.90" y2="320.60" stroke="#33dd33" stroke-width="2.2"/>
<text x="620.50" y="324.80" font-family='"Liberation Serif", serif' font-size="13" font-weight="bold" text-anchor="start" fill="#000" stroke="#000" stroke-width="0.12" word-spacing="1">2 A g<tspan font-size="0.62em" dy="-0.75em">-1</tspan></text>
<line x1="593.10" y1="338.10" x2="617.90" y2="338.10" stroke="#1c1cc4" stroke-width="2.2"/>
<text x="620.50" y="342.30" font-family='"Liberation Serif", serif' font-size="13" font-weight="bold" text-anchor="start" fill="#000" stroke="#000" stroke-width="0.12" word-spacing="1">5 A g<tspan font-size="0.62em" dy="-0.75em">-1</tspan></text>
<path d="M394.80,497.20 C395.07,495.98 395.07,492.72 396.40,489.90 C397.73,487.08 399.85,484.05 402.80,480.30 C405.75,476.55 409.55,471.68 414.10,467.40 C418.65,463.12 424.75,458.33 430.10,454.60 C435.45,450.87 440.83,448.22 446.20,445.00 C451.57,441.78 456.95,438.52 462.30,435.30 C467.65,432.08 472.02,428.70 478.30,425.70 C484.58,422.70 492.97,419.47 500.00,417.30 C507.03,415.13 517.08,413.47 520.50,412.70" fill="none" stroke="#1a1a8a" stroke-width="1.8" stroke-linejoin="round" stroke-linecap="round"/>
<path d="M520.50,412.70 C521.08,414.57 521.53,419.75 524.00,423.90 C526.47,428.05 530.73,433.32 535.30,437.60 C539.87,441.88 546.45,446.13 551.40,449.60 C556.35,453.07 561.02,455.97 565.00,458.40 C568.98,460.83 569.82,460.97 575.30,464.20 C580.78,467.43 590.37,473.65 597.90,477.80 C605.43,481.95 612.97,485.82 620.50,489.10 C628.03,492.38 639.33,496.10 643.10,497.50" fill="none" stroke="#1a1a8a" stroke-width="1.8" stroke-linejoin="round" stroke-linecap="round"/>
<path d="M394.80,497.20 C395.33,493.85 396.38,483.13 398.00,477.10 C399.62,471.07 402.35,465.55 404.50,461.00 C406.65,456.45 407.97,454.08 410.90,449.80 C413.83,445.52 418.62,439.58 422.10,435.30 C425.58,431.02 428.10,427.85 431.80,424.10 C435.50,420.35 442.22,414.68 444.30,412.80" fill="none" stroke="#ee22ee" stroke-width="1.7" stroke-linejoin="round" stroke-linecap="round"/>
<path d="M444.30,412.80 C444.62,414.95 445.08,421.15 446.20,425.70 C447.32,430.25 449.13,435.82 451.00,440.10 C452.87,444.38 454.18,446.85 457.40,451.40 C460.62,455.95 466.02,462.05 470.30,467.40 C474.58,472.75 479.35,478.53 483.10,483.50 C486.85,488.47 491.18,494.92 492.80,497.20" fill="none" stroke="#ee22ee" stroke-width="1.7" stroke-linejoin="round" stroke-linecap="round"/>
<path d="M394.80,497.20 C395.07,493.05 395.60,479.93 396.40,472.30 C397.20,464.67 398.25,458.63 399.60,451.40 C400.95,444.17 402.80,435.12 404.50,428.90 C406.20,422.68 408.92,416.57 409.80,414.10" fill="none" stroke="#1e7d28" stroke-width="1.8" stroke-linejoin="round" stroke-linecap="round"/>
<path d="M409.80,414.10 C410.12,418.43 410.72,431.75 411.70,440.10 C412.68,448.45 414.37,457.50 415.70,464.20 C417.03,470.90 418.37,475.00 419.70,480.30 C421.03,485.60 423.03,493.38 423.70,496.00" fill="none" stroke="#1e7d28" stroke-width="1.8" stroke-linejoin="round" stroke-linecap="round"/>
<rect x="389.20" y="398.90" width="282.20" height="103.90" fill="none" stroke="#000" stroke-width="1.6"/>
<line x1="384.20" y1="475.20" x2="389.20" y2="475.20" stroke="#000" stroke-width="1.4"/>
<text transform="translate(382.30,479.75) scale(1,1.06)" x="0" y="0" font-family='"Liberation Serif", serif' font-size="13" font-weight="bold" text-anchor="end" fill="#000" stroke="#000" stroke-width="0.2">0.0</text>
<line x1="384.20" y1="441.12" x2="389.20" y2="441.12" stroke="#000" stroke-width="1.4"/>
<text transform="translate(382.30,445.67) scale(1,1.06)" x="0" y="0" font-family='"Liberation Serif", serif' font-size="13" font-weight="bold" text-anchor="end" fill="#000" stroke="#000" stroke-width="0.2">0.6</text>
<line x1="384.20" y1="407.04" x2="389.20" y2="407.04" stroke="#000" stroke-width="1.4"/>
<text transform="translate(382.30,411.59) scale(1,1.06)" x="0" y="0" font-family='"Liberation Serif", serif' font-size="13" font-weight="bold" text-anchor="end" fill="#000" stroke="#000" stroke-width="0.2">1.2</text>
<line x1="386.20" y1="492.24" x2="389.20" y2="492.24" stroke="#000" stroke-width="1.2"/>
<line x1="386.20" y1="458.16" x2="389.20" y2="458.16" stroke="#000" stroke-width="1.2"/>
<line x1="386.20" y1="424.08" x2="389.20" y2="424.08" stroke="#000" stroke-width="1.2"/>
<line x1="394.40" y1="502.80" x2="394.40" y2="507.80" stroke="#000" stroke-width="1.4"/>
<text transform="translate(394.40,520.30) scale(1,1.06)" x="0" y="0" font-family='"Liberation Serif", serif' font-size="13" font-weight="bold" text-anchor="middle" fill="#000" stroke="#000" stroke-width="0.2">0</text>
<line x1="440.60" y1="502.80" x2="440.60" y2="507.80" stroke="#000" stroke-width="1.4"/>
<text transform="translate(440.60,520.30) scale(1,1.06)" x="0" y="0" font-family='"Liberation Serif", serif' font-size="13" font-weight="bold" text-anchor="middle" fill="#000" stroke="#000" stroke-width="0.2">4</text>
<line x1="486.80" y1="502.80" x2="486.80" y2="507.80" stroke="#000" stroke-width="1.4"/>
<text transform="translate(486.80,520.30) scale(1,1.06)" x="0" y="0" font-family='"Liberation Serif", serif' font-size="13" font-weight="bold" text-anchor="middle" fill="#000" stroke="#000" stroke-width="0.2">8</text>
<line x1="533.00" y1="502.80" x2="533.00" y2="507.80" stroke="#000" stroke-width="1.4"/>
<text transform="translate(533.00,520.30) scale(1,1.06)" x="0" y="0" font-family='"Liberation Serif", serif' font-size="13" font-weight="bold" text-anchor="middle" fill="#000" stroke="#000" stroke-width="0.2">12</text>
<line x1="579.20" y1="502.80" x2="579.20" y2="507.80" stroke="#000" stroke-width="1.4"/>
<text transform="translate(579.20,520.30) scale(1,1.06)" x="0" y="0" font-family='"Liberation Serif", serif' font-size="13" font-weight="bold" text-anchor="middle" fill="#000" stroke="#000" stroke-width="0.2">16</text>
<line x1="625.40" y1="502.80" x2="625.40" y2="507.80" stroke="#000" stroke-width="1.4"/>
<text transform="translate(625.40,520.30) scale(1,1.06)" x="0" y="0" font-family='"Liberation Serif", serif' font-size="13" font-weight="bold" text-anchor="middle" fill="#000" stroke="#000" stroke-width="0.2">20</text>
<line x1="671.60" y1="502.80" x2="671.60" y2="507.80" stroke="#000" stroke-width="1.4"/>
<text transform="translate(671.60,520.30) scale(1,1.06)" x="0" y="0" font-family='"Liberation Serif", serif' font-size="13" font-weight="bold" text-anchor="middle" fill="#000" stroke="#000" stroke-width="0.2">24</text>
<line x1="417.50" y1="502.80" x2="417.50" y2="505.80" stroke="#000" stroke-width="1.2"/>
<line x1="463.70" y1="502.80" x2="463.70" y2="505.80" stroke="#000" stroke-width="1.2"/>
<line x1="509.90" y1="502.80" x2="509.90" y2="505.80" stroke="#000" stroke-width="1.2"/>
<line x1="556.10" y1="502.80" x2="556.10" y2="505.80" stroke="#000" stroke-width="1.2"/>
<line x1="602.30" y1="502.80" x2="602.30" y2="505.80" stroke="#000" stroke-width="1.2"/>
<line x1="648.50" y1="502.80" x2="648.50" y2="505.80" stroke="#000" stroke-width="1.2"/>
<text x="537.60" y="538.50" font-family='"Liberation Serif", serif' font-size="22.4" font-weight="bold" text-anchor="middle" fill="#000">Time (s)</text>
<text transform="translate(356.30,389.60) rotate(-90)" x="0" y="0" font-family='"Liberation Serif", serif' font-size="21.5" font-weight="bold" text-anchor="middle" fill="#000">E (V vs Ag/AgCl)</text>
<line x1="597.40" y1="409.90" x2="621.60" y2="409.90" stroke="#1a1a8a" stroke-width="2.2"/>
<text x="624.00" y="414.10" font-family='"Liberation Serif", serif' font-size="13" font-weight="bold" text-anchor="start" fill="#000" stroke="#000" stroke-width="0.12" word-spacing="1">10 A g<tspan font-size="0.62em" dy="-0.75em">-1</tspan></text>
<line x1="597.40" y1="427.30" x2="621.60" y2="427.30" stroke="#ee22ee" stroke-width="2.2"/>
<text x="624.00" y="431.50" font-family='"Liberation Serif", serif' font-size="13" font-weight="bold" text-anchor="start" fill="#000" stroke="#000" stroke-width="0.12" word-spacing="1">20 A g<tspan font-size="0.62em" dy="-0.75em">-1</tspan></text>
<line x1="597.40" y1="445.00" x2="621.60" y2="445.00" stroke="#1e7d28" stroke-width="2.2"/>
<text x="624.00" y="449.20" font-family='"Liberation Serif", serif' font-size="13" font-weight="bold" text-anchor="start" fill="#000" stroke="#000" stroke-width="0.12" word-spacing="1">50 A g<tspan font-size="0.62em" dy="-0.75em">-1</tspan></text>
<path d="M82.11,586.22 L84.42,612.48 L89.04,636.37 L102.90,664.51 L126.00,677.68 L172.20,683.48 L310.80,696.98" fill="none" stroke="#000" stroke-width="1.6" stroke-linejoin="round"/>
<path d="M82.11,582.92 L85.41,586.22 L82.11,589.52 L78.81,586.22 Z" fill="#1f24d8"/>
<path d="M84.42,609.18 L87.72,612.48 L84.42,615.78 L81.12,612.48 Z" fill="#1f24d8"/>
<path d="M89.04,633.07 L92.34,636.37 L89.04,639.67 L85.74,636.37 Z" fill="#1f24d8"/>
<path d="M102.90,661.21 L106.20,664.51 L102.90,667.81 L99.60,664.51 Z" fill="#1f24d8"/>
<path d="M126.00,674.38 L129.30,677.68 L126.00,680.98 L122.70,677.68 Z" fill="#1f24d8"/>
<path d="M172.20,680.18 L175.50,683.48 L172.20,686.78 L168.90,683.48 Z" fill="#1f24d8"/>
<path d="M310.80,693.68 L314.10,696.98 L310.80,700.28 L307.50,696.98 Z" fill="#1f24d8"/>
<rect x="56.80" y="554.00" width="277.40" height="225.00" fill="none" stroke="#000" stroke-width="1.6"/>
<line x1="51.80" y1="778.70" x2="56.80" y2="778.70" stroke="#000" stroke-width="1.4"/>
<text transform="translate(49.50,783.25) scale(1,1.06)" x="0" y="0" font-family='"Liberation Serif", serif' font-size="13" font-weight="bold" text-anchor="end" fill="#000" stroke="#000" stroke-width="0.2">-50</text>
<line x1="51.80" y1="737.80" x2="56.80" y2="737.80" stroke="#000" stroke-width="1.4"/>
<text transform="translate(49.50,742.35) scale(1,1.06)" x="0" y="0" font-family='"Liberation Serif", serif' font-size="13" font-weight="bold" text-anchor="end" fill="#000" stroke="#000" stroke-width="0.2">0</text>
<line x1="51.80" y1="696.90" x2="56.80" y2="696.90" stroke="#000" stroke-width="1.4"/>
<text transform="translate(49.50,701.45) scale(1,1.06)" x="0" y="0" font-family='"Liberation Serif", serif' font-size="13" font-weight="bold" text-anchor="end" fill="#000" stroke="#000" stroke-width="0.2">50</text>
<line x1="51.80" y1="656.00" x2="56.80" y2="656.00" stroke="#000" stroke-width="1.4"/>
<text transform="translate(49.50,660.55) scale(1,1.06)" x="0" y="0" font-family='"Liberation Serif", serif' font-size="13" font-weight="bold" text-anchor="end" fill="#000" stroke="#000" stroke-width="0.2">100</text>
<line x1="51.80" y1="615.10" x2="56.80" y2="615.10" stroke="#000" stroke-width="1.4"/>
<text transform="translate(49.50,619.65) scale(1,1.06)" x="0" y="0" font-family='"Liberation Serif", serif' font-size="13" font-weight="bold" text-anchor="end" fill="#000" stroke="#000" stroke-width="0.2">150</text>
<line x1="51.80" y1="574.20" x2="56.80" y2="574.20" stroke="#000" stroke-width="1.4"/>
<text transform="translate(49.50,578.75) scale(1,1.06)" x="0" y="0" font-family='"Liberation Serif", serif' font-size="13" font-weight="bold" text-anchor="end" fill="#000" stroke="#000" stroke-width="0.2">200</text>
<line x1="53.80" y1="758.25" x2="56.80" y2="758.25" stroke="#000" stroke-width="1.2"/>
<line x1="53.80" y1="717.35" x2="56.80" y2="717.35" stroke="#000" stroke-width="1.2"/>
<line x1="53.80" y1="676.45" x2="56.80" y2="676.45" stroke="#000" stroke-width="1.2"/>
<line x1="53.80" y1="635.55" x2="56.80" y2="635.55" stroke="#000" stroke-width="1.2"/>
<line x1="53.80" y1="594.65" x2="56.80" y2="594.65" stroke="#000" stroke-width="1.2"/>
<line x1="79.80" y1="779.00" x2="79.80" y2="784.00" stroke="#000" stroke-width="1.4"/>
<text transform="translate(79.80,796.30) scale(1,1.06)" x="0" y="0" font-family='"Liberation Serif", serif' font-size="13" font-weight="bold" text-anchor="middle" fill="#000" stroke="#000" stroke-width="0.2">0</text>
<line x1="126.00" y1="779.00" x2="126.00" y2="784.00" stroke="#000" stroke-width="1.4"/>
<text transform="translate(126.00,796.30) scale(1,1.06)" x="0" y="0" font-family='"Liberation Serif", serif' font-size="13" font-weight="bold" text-anchor="middle" fill="#000" stroke="#000" stroke-width="0.2">10</text>
<line x1="172.20" y1="779.00" x2="172.20" y2="784.00" stroke="#000" stroke-width="1.4"/>
<text transform="translate(172.20,796.30) scale(1,1.06)" x="0" y="0" font-family='"Liberation Serif", serif' font-size="13" font-weight="bold" text-anchor="middle" fill="#000" stroke="#000" stroke-width="0.2">20</text>
<line x1="218.40" y1="779.00" x2="218.40" y2="784.00" stroke="#000" stroke-width="1.4"/>
<text transform="translate(218.40,796.30) scale(1,1.06)" x="0" y="0" font-family='"Liberation Serif", serif' font-size="13" font-weight="bold" text-anchor="middle" fill="#000" stroke="#000" stroke-width="0.2">30</text>
<line x1="264.60" y1="779.00" x2="264.60" y2="784.00" stroke="#000" stroke-width="1.4"/>
<text transform="translate(264.60,796.30) scale(1,1.06)" x="0" y="0" font-family='"Liberation Serif", serif' font-size="13" font-weight="bold" text-anchor="middle" fill="#000" stroke="#000" stroke-width="0.2">40</text>
<line x1="310.80" y1="779.00" x2="310.80" y2="784.00" stroke="#000" stroke-width="1.4"/>
<text transform="translate(310.80,796.30) scale(1,1.06)" x="0" y="0" font-family='"Liberation Serif", serif' font-size="13" font-weight="bold" text-anchor="middle" fill="#000" stroke="#000" stroke-width="0.2">50</text>
<line x1="56.70" y1="779.00" x2="56.70" y2="782.00" stroke="#000" stroke-width="1.2"/>
<line x1="102.90" y1="779.00" x2="102.90" y2="782.00" stroke="#000" stroke-width="1.2"/>
<line x1="149.10" y1="779.00" x2="149.10" y2="782.00" stroke="#000" stroke-width="1.2"/>
<line x1="195.30" y1="779.00" x2="195.30" y2="782.00" stroke="#000" stroke-width="1.2"/>
<line x1="241.50" y1="779.00" x2="241.50" y2="782.00" stroke="#000" stroke-width="1.2"/>
<line x1="287.70" y1="779.00" x2="287.70" y2="782.00" stroke="#000" stroke-width="1.2"/>
<line x1="333.90" y1="779.00" x2="333.90" y2="782.00" stroke="#000" stroke-width="1.2"/>
<text x="196.00" y="818.80" font-family='"Liberation Serif", serif' font-size="22.5" font-weight="bold" text-anchor="middle" fill="#000">Current density (A g<tspan font-size="0.62em" dy="-0.88em">-1</tspan><tspan dy="0.5456em">)</tspan></text>
<text transform="translate(22.00,678.40) rotate(-90)" x="0" y="0" font-family='"Liberation Serif", serif' font-size="22.6" font-weight="bold" text-anchor="middle" fill="#000">C<tspan font-size="0.6em" dy="8.2">SP</tspan><tspan dy="-8.2"> (F g</tspan><tspan font-size="0.62em" dy="-0.88em">-1</tspan><tspan dy="0.5456em">)</tspan></text>
<text transform="translate(65.20,574.10) scale(0.9,1)" x="0" y="0" font-family='"Liberation Sans", sans-serif' font-size="21.5" fill="#000">(e)</text>
</svg></body></html>
